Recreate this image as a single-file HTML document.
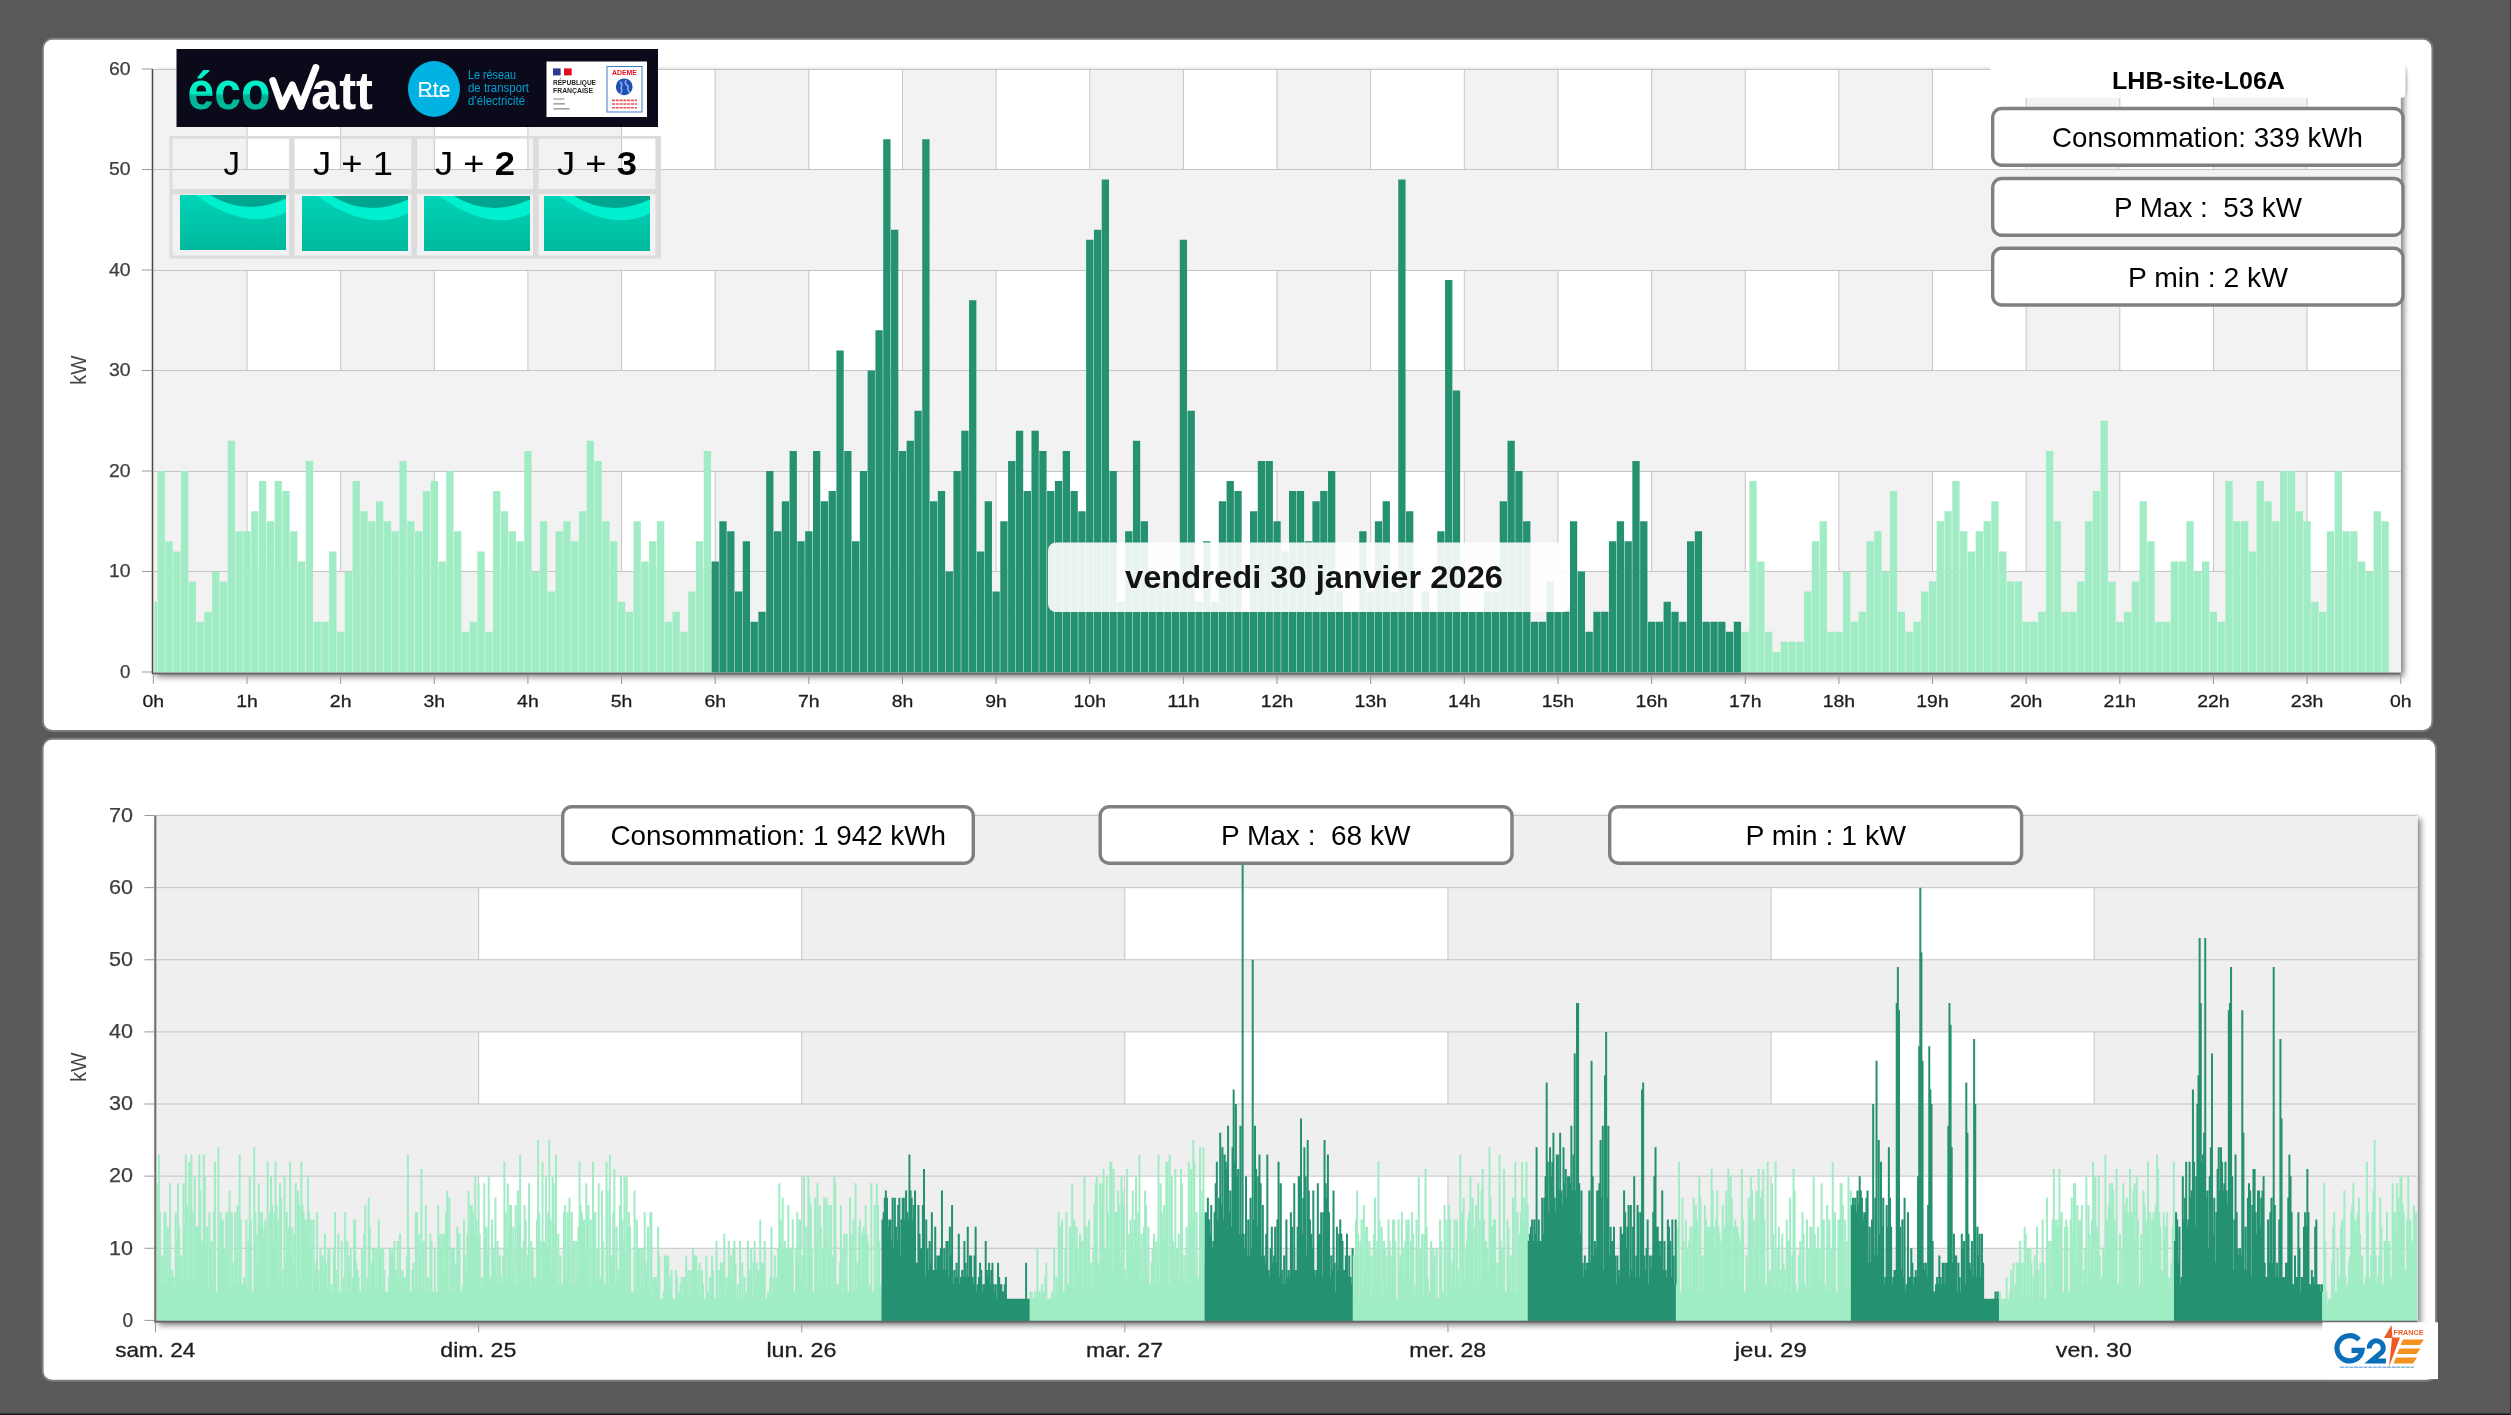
<!DOCTYPE html><html><head><meta charset="utf-8"><title>Consommation</title><style>html,body{margin:0;padding:0;background:#595959;width:2511px;height:1415px;overflow:hidden}</style></head><body><svg width="2511" height="1415" viewBox="0 0 2511 1415" style="position:absolute;left:0;top:0;display:block">
<defs>
<filter id="ps" x="-2%" y="-2%" width="104%" height="106%"><feDropShadow dx="3" dy="3" stdDeviation="3" flood-color="#000" flood-opacity="0.55"/></filter>
<filter id="panel" x="-1%" y="-2%" width="102%" height="104%"><feDropShadow dx="0" dy="0" stdDeviation="1.2" flood-color="#000" flood-opacity="0.5"/></filter>
<filter id="tsh" x="-5%" y="-20%" width="110%" height="150%"><feDropShadow dx="2" dy="2" stdDeviation="2" flood-color="#000" flood-opacity="0.25"/></filter>
<linearGradient id="eco" x1="0" y1="0" x2="0" y2="1"><stop offset="0" stop-color="#00f5d0"/><stop offset="0.55" stop-color="#00f0c8"/><stop offset="0.6" stop-color="#00b496"/><stop offset="1" stop-color="#00c8a4"/></linearGradient>
<linearGradient id="sig" x1="0" y1="0" x2="0" y2="1"><stop offset="0" stop-color="#00d4b6"/><stop offset="1" stop-color="#00b89e"/></linearGradient>
<clipPath id="sigclip"><rect x="0" y="0" width="106" height="55"/></clipPath>
</defs>
<rect width="2511" height="1415" fill="#595959"/>
<rect x="0" y="1413.5" width="2511" height="2" fill="#1a1a1a"/>
<rect x="2510" y="0" width="1" height="1415" fill="#3a3a3a"/>
<rect x="42.85" y="38.85" width="2389.55" height="692.15" rx="9.5" fill="#fff" stroke="#7c7c7c" stroke-width="2"/>
<rect x="42.6" y="738.8" width="2393.5" height="642" rx="9.5" fill="#fff" stroke="#7c7c7c" stroke-width="2"/>
<rect x="153.36" y="69" width="2247.36" height="604.5" fill="#fff" filter="url(#ps)"/>
<rect x="153.36" y="69" width="93.64" height="603" fill="#f2f2f2"/>
<rect x="340.64" y="69" width="93.64" height="603" fill="#f2f2f2"/>
<rect x="527.92" y="69" width="93.64" height="603" fill="#f2f2f2"/>
<rect x="715.2" y="69" width="93.64" height="603" fill="#f2f2f2"/>
<rect x="902.48" y="69" width="93.64" height="603" fill="#f2f2f2"/>
<rect x="1089.76" y="69" width="93.64" height="603" fill="#f2f2f2"/>
<rect x="1277.04" y="69" width="93.64" height="603" fill="#f2f2f2"/>
<rect x="1464.32" y="69" width="93.64" height="603" fill="#f2f2f2"/>
<rect x="1651.6" y="69" width="93.64" height="603" fill="#f2f2f2"/>
<rect x="1838.88" y="69" width="93.64" height="603" fill="#f2f2f2"/>
<rect x="2026.16" y="69" width="93.64" height="603" fill="#f2f2f2"/>
<rect x="2213.44" y="69" width="93.64" height="603" fill="#f2f2f2"/>
<path d="M247 69V672M340.64 69V672M434.28 69V672M527.92 69V672M621.56 69V672M715.2 69V672M808.84 69V672M902.48 69V672M996.12 69V672M1089.76 69V672M1183.4 69V672M1277.04 69V672M1370.68 69V672M1464.32 69V672M1557.96 69V672M1651.6 69V672M1745.24 69V672M1838.88 69V672M1932.52 69V672M2026.16 69V672M2119.8 69V672M2213.44 69V672M2307.08 69V672" stroke="#c4c4c4" stroke-width="1" fill="none"/>
<rect x="153.36" y="571.5" width="2247.36" height="100.5" fill="#f2f2f2"/>
<rect x="153.36" y="370.5" width="2247.36" height="100.5" fill="#f2f2f2"/>
<rect x="153.36" y="169.5" width="2247.36" height="100.5" fill="#f2f2f2"/>
<path d="M153.36 571.5H2400.72M153.36 471.5H2400.72M153.36 370.5H2400.72M153.36 270.5H2400.72M153.36 169.5H2400.72M153.36 69.5H2400.72" stroke="#c4c4c4" stroke-width="1" fill="none"/>
<path d="M154.36 672.5V601.65h2.65V672.5zM157.51 672.5V471h7.3V672.5zM165.32 672.5V541.35h7.3V672.5zM173.12 672.5V551.4h7.3V672.5zM180.92 672.5V471h7.3V672.5zM188.73 672.5V581.55h7.3V672.5zM196.53 672.5V621.75h7.3V672.5zM204.33 672.5V611.7h7.3V672.5zM212.14 672.5V571.5h7.3V672.5zM219.94 672.5V581.55h7.3V672.5zM227.74 672.5V440.85h7.3V672.5zM235.55 672.5V531.3h7.3V672.5zM243.35 672.5V531.3h7.3V672.5zM251.15 672.5V511.2h7.3V672.5zM258.96 672.5V481.05h7.3V672.5zM266.76 672.5V521.25h7.3V672.5zM274.56 672.5V481.05h7.3V672.5zM282.37 672.5V491.1h7.3V672.5zM290.17 672.5V531.3h7.3V672.5zM297.97 672.5V561.45h7.3V672.5zM305.78 672.5V460.95h7.3V672.5zM313.58 672.5V621.75h7.3V672.5zM321.38 672.5V621.75h7.3V672.5zM329.19 672.5V551.4h7.3V672.5zM336.99 672.5V631.8h7.3V672.5zM344.79 672.5V571.5h7.3V672.5zM352.6 672.5V481.05h7.3V672.5zM360.4 672.5V511.2h7.3V672.5zM368.2 672.5V521.25h7.3V672.5zM376.01 672.5V501.15h7.3V672.5zM383.81 672.5V521.25h7.3V672.5zM391.61 672.5V531.3h7.3V672.5zM399.42 672.5V460.95h7.3V672.5zM407.22 672.5V521.25h7.3V672.5zM415.02 672.5V531.3h7.3V672.5zM422.83 672.5V491.1h7.3V672.5zM430.63 672.5V481.05h7.3V672.5zM438.43 672.5V561.45h7.3V672.5zM446.24 672.5V471h7.3V672.5zM454.04 672.5V531.3h7.3V672.5zM461.84 672.5V631.8h7.3V672.5zM469.65 672.5V621.75h7.3V672.5zM477.45 672.5V551.4h7.3V672.5zM485.25 672.5V631.8h7.3V672.5zM493.06 672.5V491.1h7.3V672.5zM500.86 672.5V511.2h7.3V672.5zM508.66 672.5V531.3h7.3V672.5zM516.47 672.5V541.35h7.3V672.5zM524.27 672.5V450.9h7.3V672.5zM532.07 672.5V571.5h7.3V672.5zM539.88 672.5V521.25h7.3V672.5zM547.68 672.5V591.6h7.3V672.5zM555.48 672.5V531.3h7.3V672.5zM563.29 672.5V521.25h7.3V672.5zM571.09 672.5V541.35h7.3V672.5zM578.89 672.5V511.2h7.3V672.5zM586.7 672.5V440.85h7.3V672.5zM594.5 672.5V460.95h7.3V672.5zM602.3 672.5V521.25h7.3V672.5zM610.11 672.5V541.35h7.3V672.5zM617.91 672.5V601.65h7.3V672.5zM625.71 672.5V611.7h7.3V672.5zM633.52 672.5V521.25h7.3V672.5zM641.32 672.5V561.45h7.3V672.5zM649.12 672.5V541.35h7.3V672.5zM656.93 672.5V521.25h7.3V672.5zM664.73 672.5V621.75h7.3V672.5zM672.53 672.5V611.7h7.3V672.5zM680.34 672.5V631.8h7.3V672.5zM688.14 672.5V591.6h7.3V672.5zM695.94 672.5V541.35h7.3V672.5zM703.75 672.5V450.9h7.3V672.5zM1741.59 672.5V631.8h7.3V672.5zM1749.39 672.5V481.05h7.3V672.5zM1757.2 672.5V561.45h7.3V672.5zM1765 672.5V631.8h7.3V672.5zM1772.8 672.5V651.9h7.3V672.5zM1780.61 672.5V641.85h7.3V672.5zM1788.41 672.5V641.85h7.3V672.5zM1796.21 672.5V641.85h7.3V672.5zM1804.02 672.5V591.6h7.3V672.5zM1811.82 672.5V541.35h7.3V672.5zM1819.62 672.5V521.25h7.3V672.5zM1827.43 672.5V631.8h7.3V672.5zM1835.23 672.5V631.8h7.3V672.5zM1843.03 672.5V571.5h7.3V672.5zM1850.84 672.5V621.75h7.3V672.5zM1858.64 672.5V611.7h7.3V672.5zM1866.44 672.5V541.35h7.3V672.5zM1874.25 672.5V531.3h7.3V672.5zM1882.05 672.5V571.5h7.3V672.5zM1889.85 672.5V491.1h7.3V672.5zM1897.66 672.5V611.7h7.3V672.5zM1905.46 672.5V631.8h7.3V672.5zM1913.26 672.5V621.75h7.3V672.5zM1921.07 672.5V591.6h7.3V672.5zM1928.87 672.5V581.55h7.3V672.5zM1936.67 672.5V521.25h7.3V672.5zM1944.48 672.5V511.2h7.3V672.5zM1952.28 672.5V481.05h7.3V672.5zM1960.08 672.5V531.3h7.3V672.5zM1967.89 672.5V551.4h7.3V672.5zM1975.69 672.5V531.3h7.3V672.5zM1983.49 672.5V521.25h7.3V672.5zM1991.3 672.5V501.15h7.3V672.5zM1999.1 672.5V551.4h7.3V672.5zM2006.9 672.5V581.55h7.3V672.5zM2014.71 672.5V581.55h7.3V672.5zM2022.51 672.5V621.75h7.3V672.5zM2030.31 672.5V621.75h7.3V672.5zM2038.12 672.5V611.7h7.3V672.5zM2045.92 672.5V450.9h7.3V672.5zM2053.72 672.5V521.25h7.3V672.5zM2061.53 672.5V611.7h7.3V672.5zM2069.33 672.5V611.7h7.3V672.5zM2077.13 672.5V581.55h7.3V672.5zM2084.94 672.5V521.25h7.3V672.5zM2092.74 672.5V491.1h7.3V672.5zM2100.54 672.5V420.75h7.3V672.5zM2108.35 672.5V581.55h7.3V672.5zM2116.15 672.5V621.75h7.3V672.5zM2123.95 672.5V611.7h7.3V672.5zM2131.76 672.5V581.55h7.3V672.5zM2139.56 672.5V501.15h7.3V672.5zM2147.36 672.5V541.35h7.3V672.5zM2155.17 672.5V621.75h7.3V672.5zM2162.97 672.5V621.75h7.3V672.5zM2170.77 672.5V561.45h7.3V672.5zM2178.58 672.5V561.45h7.3V672.5zM2186.38 672.5V521.25h7.3V672.5zM2194.18 672.5V571.5h7.3V672.5zM2201.99 672.5V561.45h7.3V672.5zM2209.79 672.5V611.7h7.3V672.5zM2217.59 672.5V621.75h7.3V672.5zM2225.4 672.5V481.05h7.3V672.5zM2233.2 672.5V521.25h7.3V672.5zM2241 672.5V521.25h7.3V672.5zM2248.81 672.5V551.4h7.3V672.5zM2256.61 672.5V481.05h7.3V672.5zM2264.41 672.5V501.15h7.3V672.5zM2272.22 672.5V521.25h7.3V672.5zM2280.02 672.5V471h7.3V672.5zM2287.82 672.5V471h7.3V672.5zM2295.63 672.5V511.2h7.3V672.5zM2303.43 672.5V521.25h7.3V672.5zM2311.23 672.5V601.65h7.3V672.5zM2319.04 672.5V611.7h7.3V672.5zM2326.84 672.5V531.3h7.3V672.5zM2334.64 672.5V471h7.3V672.5zM2342.45 672.5V531.3h7.3V672.5zM2350.25 672.5V531.3h7.3V672.5zM2358.05 672.5V561.45h7.3V672.5zM2365.86 672.5V571.5h7.3V672.5zM2373.66 672.5V511.2h7.3V672.5zM2381.46 672.5V521.25h7.3V672.5z" fill="#a0ecc4"/>
<path d="M711.55 672.5V561.45h7.3V672.5zM719.35 672.5V521.25h7.3V672.5zM727.16 672.5V531.3h7.3V672.5zM734.96 672.5V591.6h7.3V672.5zM742.76 672.5V541.35h7.3V672.5zM750.57 672.5V621.75h7.3V672.5zM758.37 672.5V611.7h7.3V672.5zM766.17 672.5V471h7.3V672.5zM773.98 672.5V531.3h7.3V672.5zM781.78 672.5V501.15h7.3V672.5zM789.58 672.5V450.9h7.3V672.5zM797.39 672.5V541.35h7.3V672.5zM805.19 672.5V531.3h7.3V672.5zM812.99 672.5V450.9h7.3V672.5zM820.8 672.5V501.15h7.3V672.5zM828.6 672.5V491.1h7.3V672.5zM836.4 672.5V350.4h7.3V672.5zM844.21 672.5V450.9h7.3V672.5zM852.01 672.5V541.35h7.3V672.5zM859.81 672.5V471h7.3V672.5zM867.62 672.5V370.5h7.3V672.5zM875.42 672.5V330.3h7.3V672.5zM883.22 672.5V139.35h7.3V672.5zM891.03 672.5V229.8h7.3V672.5zM898.83 672.5V450.9h7.3V672.5zM906.63 672.5V440.85h7.3V672.5zM914.44 672.5V410.7h7.3V672.5zM922.24 672.5V139.35h7.3V672.5zM930.04 672.5V501.15h7.3V672.5zM937.85 672.5V491.1h7.3V672.5zM945.65 672.5V571.5h7.3V672.5zM953.45 672.5V471h7.3V672.5zM961.26 672.5V430.8h7.3V672.5zM969.06 672.5V300.15h7.3V672.5zM976.86 672.5V551.4h7.3V672.5zM984.67 672.5V501.15h7.3V672.5zM992.47 672.5V591.6h7.3V672.5zM1000.27 672.5V521.25h7.3V672.5zM1008.08 672.5V460.95h7.3V672.5zM1015.88 672.5V430.8h7.3V672.5zM1023.68 672.5V491.1h7.3V672.5zM1031.49 672.5V430.8h7.3V672.5zM1039.29 672.5V450.9h7.3V672.5zM1047.09 672.5V491.1h7.3V672.5zM1054.9 672.5V481.05h7.3V672.5zM1062.7 672.5V450.9h7.3V672.5zM1070.5 672.5V491.1h7.3V672.5zM1078.31 672.5V511.2h7.3V672.5zM1086.11 672.5V239.85h7.3V672.5zM1093.91 672.5V229.8h7.3V672.5zM1101.72 672.5V179.55h7.3V672.5zM1109.52 672.5V471h7.3V672.5zM1117.32 672.5V601.65h7.3V672.5zM1125.13 672.5V531.3h7.3V672.5zM1132.93 672.5V440.85h7.3V672.5zM1140.73 672.5V521.25h7.3V672.5zM1148.54 672.5V571.5h7.3V672.5zM1156.34 672.5V581.55h7.3V672.5zM1164.14 672.5V571.5h7.3V672.5zM1171.95 672.5V581.55h7.3V672.5zM1179.75 672.5V239.85h7.3V672.5zM1187.55 672.5V410.7h7.3V672.5zM1195.36 672.5V601.65h7.3V672.5zM1203.16 672.5V541.35h7.3V672.5zM1210.96 672.5V601.65h7.3V672.5zM1218.77 672.5V501.15h7.3V672.5zM1226.57 672.5V481.05h7.3V672.5zM1234.37 672.5V491.1h7.3V672.5zM1242.18 672.5V611.7h7.3V672.5zM1249.98 672.5V511.2h7.3V672.5zM1257.78 672.5V460.95h7.3V672.5zM1265.59 672.5V460.95h7.3V672.5zM1273.39 672.5V521.25h7.3V672.5zM1281.19 672.5V551.4h7.3V672.5zM1289 672.5V491.1h7.3V672.5zM1296.8 672.5V491.1h7.3V672.5zM1304.6 672.5V541.35h7.3V672.5zM1312.41 672.5V501.15h7.3V672.5zM1320.21 672.5V491.1h7.3V672.5zM1328.01 672.5V471h7.3V672.5zM1335.82 672.5V591.6h7.3V672.5zM1343.62 672.5V611.7h7.3V672.5zM1351.42 672.5V611.7h7.3V672.5zM1359.23 672.5V531.3h7.3V672.5zM1367.03 672.5V591.6h7.3V672.5zM1374.83 672.5V521.25h7.3V672.5zM1382.64 672.5V501.15h7.3V672.5zM1390.44 672.5V591.6h7.3V672.5zM1398.24 672.5V179.55h7.3V672.5zM1406.05 672.5V511.2h7.3V672.5zM1413.85 672.5V611.7h7.3V672.5zM1421.65 672.5V591.6h7.3V672.5zM1429.46 672.5V611.7h7.3V672.5zM1437.26 672.5V531.3h7.3V672.5zM1445.06 672.5V280.05h7.3V672.5zM1452.87 672.5V390.6h7.3V672.5zM1460.67 672.5V611.7h7.3V672.5zM1468.47 672.5V611.7h7.3V672.5zM1476.28 672.5V611.7h7.3V672.5zM1484.08 672.5V591.6h7.3V672.5zM1491.88 672.5V591.6h7.3V672.5zM1499.69 672.5V501.15h7.3V672.5zM1507.49 672.5V440.85h7.3V672.5zM1515.29 672.5V471h7.3V672.5zM1523.1 672.5V521.25h7.3V672.5zM1530.9 672.5V621.75h7.3V672.5zM1538.7 672.5V621.75h7.3V672.5zM1546.51 672.5V581.55h7.3V672.5zM1554.31 672.5V611.7h7.3V672.5zM1562.11 672.5V611.7h7.3V672.5zM1569.92 672.5V521.25h7.3V672.5zM1577.72 672.5V571.5h7.3V672.5zM1585.52 672.5V631.8h7.3V672.5zM1593.33 672.5V611.7h7.3V672.5zM1601.13 672.5V611.7h7.3V672.5zM1608.93 672.5V541.35h7.3V672.5zM1616.74 672.5V521.25h7.3V672.5zM1624.54 672.5V541.35h7.3V672.5zM1632.34 672.5V460.95h7.3V672.5zM1640.15 672.5V521.25h7.3V672.5zM1647.95 672.5V621.75h7.3V672.5zM1655.75 672.5V621.75h7.3V672.5zM1663.56 672.5V601.65h7.3V672.5zM1671.36 672.5V611.7h7.3V672.5zM1679.16 672.5V621.75h7.3V672.5zM1686.97 672.5V541.35h7.3V672.5zM1694.77 672.5V531.3h7.3V672.5zM1702.57 672.5V621.75h7.3V672.5zM1710.38 672.5V621.75h7.3V672.5zM1718.18 672.5V621.75h7.3V672.5zM1725.98 672.5V631.8h7.3V672.5zM1733.79 672.5V621.75h7.3V672.5z" fill="#249170"/>
<rect x="152.36" y="672.5" width="2248.36" height="2" fill="#6a6a6a"/>
<rect x="151.76" y="69" width="1.5" height="605" fill="#484848"/>
<path d="M153.36 674.5V684M247 674.5V684M340.64 674.5V684M434.28 674.5V684M527.92 674.5V684M621.56 674.5V684M715.2 674.5V684M808.84 674.5V684M902.48 674.5V684M996.12 674.5V684M1089.76 674.5V684M1183.4 674.5V684M1277.04 674.5V684M1370.68 674.5V684M1464.32 674.5V684M1557.96 674.5V684M1651.6 674.5V684M1745.24 674.5V684M1838.88 674.5V684M1932.52 674.5V684M2026.16 674.5V684M2119.8 674.5V684M2213.44 674.5V684M2307.08 674.5V684M2400.72 674.5V684M141.86 672H152.36M141.86 571.5H152.36M141.86 471H152.36M141.86 370.5H152.36M141.86 270H152.36M141.86 169.5H152.36M141.86 69H152.36" stroke="#999" stroke-width="1" fill="none"/>
<text opacity="0.99" x="130.5" y="677.8" text-anchor="end" font-family="Liberation Sans, sans-serif" font-size="17.8" fill="#3c3c3c" stroke="#3c3c3c" stroke-width="0.25" textLength="10.4" lengthAdjust="spacingAndGlyphs">0</text>
<text opacity="0.99" x="130.5" y="577.3" text-anchor="end" font-family="Liberation Sans, sans-serif" font-size="17.8" fill="#3c3c3c" stroke="#3c3c3c" stroke-width="0.25" textLength="21.6" lengthAdjust="spacingAndGlyphs">10</text>
<text opacity="0.99" x="130.5" y="476.8" text-anchor="end" font-family="Liberation Sans, sans-serif" font-size="17.8" fill="#3c3c3c" stroke="#3c3c3c" stroke-width="0.25" textLength="21.6" lengthAdjust="spacingAndGlyphs">20</text>
<text opacity="0.99" x="130.5" y="376.3" text-anchor="end" font-family="Liberation Sans, sans-serif" font-size="17.8" fill="#3c3c3c" stroke="#3c3c3c" stroke-width="0.25" textLength="21.6" lengthAdjust="spacingAndGlyphs">30</text>
<text opacity="0.99" x="130.5" y="275.8" text-anchor="end" font-family="Liberation Sans, sans-serif" font-size="17.8" fill="#3c3c3c" stroke="#3c3c3c" stroke-width="0.25" textLength="21.6" lengthAdjust="spacingAndGlyphs">40</text>
<text opacity="0.99" x="130.5" y="175.3" text-anchor="end" font-family="Liberation Sans, sans-serif" font-size="17.8" fill="#3c3c3c" stroke="#3c3c3c" stroke-width="0.25" textLength="21.6" lengthAdjust="spacingAndGlyphs">50</text>
<text opacity="0.99" x="130.5" y="74.8" text-anchor="end" font-family="Liberation Sans, sans-serif" font-size="17.8" fill="#3c3c3c" stroke="#3c3c3c" stroke-width="0.25" textLength="21.6" lengthAdjust="spacingAndGlyphs">60</text>
<text opacity="0.99" x="153.36" y="707" text-anchor="middle" font-family="Liberation Sans, sans-serif" font-size="17.4" fill="#1c1c1c" stroke="#1c1c1c" stroke-width="0.3" textLength="21.6" lengthAdjust="spacingAndGlyphs">0h</text>
<text opacity="0.99" x="247" y="707" text-anchor="middle" font-family="Liberation Sans, sans-serif" font-size="17.4" fill="#1c1c1c" stroke="#1c1c1c" stroke-width="0.3" textLength="21.6" lengthAdjust="spacingAndGlyphs">1h</text>
<text opacity="0.99" x="340.64" y="707" text-anchor="middle" font-family="Liberation Sans, sans-serif" font-size="17.4" fill="#1c1c1c" stroke="#1c1c1c" stroke-width="0.3" textLength="21.6" lengthAdjust="spacingAndGlyphs">2h</text>
<text opacity="0.99" x="434.28" y="707" text-anchor="middle" font-family="Liberation Sans, sans-serif" font-size="17.4" fill="#1c1c1c" stroke="#1c1c1c" stroke-width="0.3" textLength="21.6" lengthAdjust="spacingAndGlyphs">3h</text>
<text opacity="0.99" x="527.92" y="707" text-anchor="middle" font-family="Liberation Sans, sans-serif" font-size="17.4" fill="#1c1c1c" stroke="#1c1c1c" stroke-width="0.3" textLength="21.6" lengthAdjust="spacingAndGlyphs">4h</text>
<text opacity="0.99" x="621.56" y="707" text-anchor="middle" font-family="Liberation Sans, sans-serif" font-size="17.4" fill="#1c1c1c" stroke="#1c1c1c" stroke-width="0.3" textLength="21.6" lengthAdjust="spacingAndGlyphs">5h</text>
<text opacity="0.99" x="715.2" y="707" text-anchor="middle" font-family="Liberation Sans, sans-serif" font-size="17.4" fill="#1c1c1c" stroke="#1c1c1c" stroke-width="0.3" textLength="21.6" lengthAdjust="spacingAndGlyphs">6h</text>
<text opacity="0.99" x="808.84" y="707" text-anchor="middle" font-family="Liberation Sans, sans-serif" font-size="17.4" fill="#1c1c1c" stroke="#1c1c1c" stroke-width="0.3" textLength="21.6" lengthAdjust="spacingAndGlyphs">7h</text>
<text opacity="0.99" x="902.48" y="707" text-anchor="middle" font-family="Liberation Sans, sans-serif" font-size="17.4" fill="#1c1c1c" stroke="#1c1c1c" stroke-width="0.3" textLength="21.6" lengthAdjust="spacingAndGlyphs">8h</text>
<text opacity="0.99" x="996.12" y="707" text-anchor="middle" font-family="Liberation Sans, sans-serif" font-size="17.4" fill="#1c1c1c" stroke="#1c1c1c" stroke-width="0.3" textLength="21.6" lengthAdjust="spacingAndGlyphs">9h</text>
<text opacity="0.99" x="1089.76" y="707" text-anchor="middle" font-family="Liberation Sans, sans-serif" font-size="17.4" fill="#1c1c1c" stroke="#1c1c1c" stroke-width="0.3" textLength="32.4" lengthAdjust="spacingAndGlyphs">10h</text>
<text opacity="0.99" x="1183.4" y="707" text-anchor="middle" font-family="Liberation Sans, sans-serif" font-size="17.4" fill="#1c1c1c" stroke="#1c1c1c" stroke-width="0.3" textLength="32.4" lengthAdjust="spacingAndGlyphs">11h</text>
<text opacity="0.99" x="1277.04" y="707" text-anchor="middle" font-family="Liberation Sans, sans-serif" font-size="17.4" fill="#1c1c1c" stroke="#1c1c1c" stroke-width="0.3" textLength="32.4" lengthAdjust="spacingAndGlyphs">12h</text>
<text opacity="0.99" x="1370.68" y="707" text-anchor="middle" font-family="Liberation Sans, sans-serif" font-size="17.4" fill="#1c1c1c" stroke="#1c1c1c" stroke-width="0.3" textLength="32.4" lengthAdjust="spacingAndGlyphs">13h</text>
<text opacity="0.99" x="1464.32" y="707" text-anchor="middle" font-family="Liberation Sans, sans-serif" font-size="17.4" fill="#1c1c1c" stroke="#1c1c1c" stroke-width="0.3" textLength="32.4" lengthAdjust="spacingAndGlyphs">14h</text>
<text opacity="0.99" x="1557.96" y="707" text-anchor="middle" font-family="Liberation Sans, sans-serif" font-size="17.4" fill="#1c1c1c" stroke="#1c1c1c" stroke-width="0.3" textLength="32.4" lengthAdjust="spacingAndGlyphs">15h</text>
<text opacity="0.99" x="1651.6" y="707" text-anchor="middle" font-family="Liberation Sans, sans-serif" font-size="17.4" fill="#1c1c1c" stroke="#1c1c1c" stroke-width="0.3" textLength="32.4" lengthAdjust="spacingAndGlyphs">16h</text>
<text opacity="0.99" x="1745.24" y="707" text-anchor="middle" font-family="Liberation Sans, sans-serif" font-size="17.4" fill="#1c1c1c" stroke="#1c1c1c" stroke-width="0.3" textLength="32.4" lengthAdjust="spacingAndGlyphs">17h</text>
<text opacity="0.99" x="1838.88" y="707" text-anchor="middle" font-family="Liberation Sans, sans-serif" font-size="17.4" fill="#1c1c1c" stroke="#1c1c1c" stroke-width="0.3" textLength="32.4" lengthAdjust="spacingAndGlyphs">18h</text>
<text opacity="0.99" x="1932.52" y="707" text-anchor="middle" font-family="Liberation Sans, sans-serif" font-size="17.4" fill="#1c1c1c" stroke="#1c1c1c" stroke-width="0.3" textLength="32.4" lengthAdjust="spacingAndGlyphs">19h</text>
<text opacity="0.99" x="2026.16" y="707" text-anchor="middle" font-family="Liberation Sans, sans-serif" font-size="17.4" fill="#1c1c1c" stroke="#1c1c1c" stroke-width="0.3" textLength="32.4" lengthAdjust="spacingAndGlyphs">20h</text>
<text opacity="0.99" x="2119.8" y="707" text-anchor="middle" font-family="Liberation Sans, sans-serif" font-size="17.4" fill="#1c1c1c" stroke="#1c1c1c" stroke-width="0.3" textLength="32.4" lengthAdjust="spacingAndGlyphs">21h</text>
<text opacity="0.99" x="2213.44" y="707" text-anchor="middle" font-family="Liberation Sans, sans-serif" font-size="17.4" fill="#1c1c1c" stroke="#1c1c1c" stroke-width="0.3" textLength="32.4" lengthAdjust="spacingAndGlyphs">22h</text>
<text opacity="0.99" x="2307.08" y="707" text-anchor="middle" font-family="Liberation Sans, sans-serif" font-size="17.4" fill="#1c1c1c" stroke="#1c1c1c" stroke-width="0.3" textLength="32.4" lengthAdjust="spacingAndGlyphs">23h</text>
<text opacity="0.99" x="2400.72" y="707" text-anchor="middle" font-family="Liberation Sans, sans-serif" font-size="17.4" fill="#1c1c1c" stroke="#1c1c1c" stroke-width="0.3" textLength="21.6" lengthAdjust="spacingAndGlyphs">0h</text>
<text opacity="0.99" transform="translate(85.8,370.3) rotate(-90)" text-anchor="middle" font-family="Liberation Sans, sans-serif" font-size="21.5" fill="#444" textLength="29.6" lengthAdjust="spacingAndGlyphs">kW</text>
<rect x="1048" y="542.5" width="522" height="69.5" rx="8" fill="#fff" fill-opacity="0.9"/>
<text opacity="0.99" x="1314" y="588.3" text-anchor="middle" font-family="Liberation Sans, sans-serif" font-size="30.5" font-weight="bold" fill="#111" textLength="378" lengthAdjust="spacingAndGlyphs">vendredi 30 janvier 2026</text>
<rect x="176.5" y="49" width="481.5" height="78" fill="#0a0a1a"/>
<text opacity="0.99" x="187.5" y="109" font-family="Liberation Sans, sans-serif" font-size="54" font-weight="bold" fill="url(#eco)" textLength="83" lengthAdjust="spacingAndGlyphs">éco</text>
<path d="M272.8 80.5L282 106.5L292.3 85L300.8 106.5L315.8 67.5" stroke="#fff" stroke-width="7" stroke-linecap="round" stroke-linejoin="round" fill="none"/>
<text opacity="0.99" x="311" y="109" font-family="Liberation Sans, sans-serif" font-size="54" font-weight="bold" fill="#fff" textLength="62" lengthAdjust="spacingAndGlyphs">att</text>
<ellipse cx="434" cy="89" rx="26" ry="28" fill="#00b2e2"/>
<text opacity="0.99" x="434" y="97" text-anchor="middle" font-family="Liberation Sans, sans-serif" font-size="22" fill="#fff" textLength="33" lengthAdjust="spacingAndGlyphs">Rte</text>
<path d="M419 96H449" stroke="#fff" stroke-width="1.3"/>
<text opacity="0.99" x="468" y="78.6" font-family="Liberation Sans, sans-serif" font-size="12.5" fill="#00a4d4" textLength="48" lengthAdjust="spacingAndGlyphs">Le réseau</text>
<text opacity="0.99" x="468" y="92" font-family="Liberation Sans, sans-serif" font-size="12.5" fill="#00a4d4" textLength="61" lengthAdjust="spacingAndGlyphs">de transport</text>
<text opacity="0.99" x="468" y="105.4" font-family="Liberation Sans, sans-serif" font-size="12.5" fill="#00a4d4" textLength="57" lengthAdjust="spacingAndGlyphs">d’électricité</text>
<rect x="546.5" y="61.5" width="100.5" height="55.5" fill="#fff"/>
<rect x="553" y="68.4" width="7.6" height="7" fill="#2b3b8f"/><rect x="564" y="68.4" width="7.7" height="7" fill="#e1101f"/>
<text opacity="0.99" x="553" y="84.8" font-family="Liberation Sans, sans-serif" font-size="7.2" font-weight="bold" fill="#222" textLength="43" lengthAdjust="spacingAndGlyphs">RÉPUBLIQUE</text>
<text opacity="0.99" x="553" y="93.2" font-family="Liberation Sans, sans-serif" font-size="7.2" font-weight="bold" fill="#222" textLength="40" lengthAdjust="spacingAndGlyphs">FRANÇAISE</text>
<path d="M553.5 99h11M553.5 103.8h11.5M553.5 108.8h16" stroke="#888" stroke-width="1.2"/>
<rect x="607" y="66.5" width="35" height="45.5" fill="#fff" stroke="#3d7cc9" stroke-width="1"/>
<text opacity="0.99" x="624.5" y="74.6" text-anchor="middle" font-family="Liberation Sans, sans-serif" font-size="6.4" font-weight="bold" fill="#e1101f" textLength="25" lengthAdjust="spacingAndGlyphs">ADEME</text>
<circle cx="624.2" cy="86.8" r="8.4" fill="#1d50b4"/><path d="M620 82q3 2 1 6q2 3 -1 6M626 80q-2 4 2 6q-1 4 2 7" stroke="#8fa8e6" stroke-width="1.6" fill="none"/>
<path d="M612 100.4h25M612 104h25M612 107.7h25" stroke="#e8505a" stroke-width="1.6" stroke-dasharray="3 0.8"/>
<rect x="169.5" y="136" width="491.5" height="122.5" fill="#dcdcdc" fill-opacity="0.0"/>
<path d="M169.5 136H661V258.5H169.5zM172.5 138.7V188.9H289V138.7zM172.5 194.2V255.6H289V194.2zM294.6 138.7V188.9H411.4V138.7zM294.6 194.2V255.6H411.4V194.2zM417 138.7V188.9H533V138.7zM417 194.2V255.6H533V194.2zM538.6 138.7V188.9H655.4V138.7zM538.6 194.2V255.6H655.4V194.2z" fill="#dcdcdc" fill-rule="evenodd"/>
<text opacity="0.99" x="231.75" y="175" text-anchor="middle" font-family="Liberation Sans, sans-serif" font-size="33" fill="#000">J</text>
<text opacity="0.99" x="353" y="175" text-anchor="middle" font-family="Liberation Sans, sans-serif" font-size="33" fill="#000" textLength="80" lengthAdjust="spacingAndGlyphs">J + <tspan font-weight="normal">1</tspan></text>
<text opacity="0.99" x="475" y="175" text-anchor="middle" font-family="Liberation Sans, sans-serif" font-size="33" fill="#000" textLength="80" lengthAdjust="spacingAndGlyphs">J + <tspan font-weight="bold">2</tspan></text>
<text opacity="0.99" x="597" y="175" text-anchor="middle" font-family="Liberation Sans, sans-serif" font-size="33" fill="#000" textLength="80" lengthAdjust="spacingAndGlyphs">J + <tspan font-weight="bold">3</tspan></text>
<g transform="translate(180,195)" clip-path="url(#sigclip)"><rect width="106" height="55" fill="url(#sig)"/><path d="M15.5 0 C40 18 75 34 106 17 V0z" fill="#00efcf"/><path d="M30 0 Q66 22 106 3.5 V0z" fill="#00a58f"/></g>
<g transform="translate(302,196)" clip-path="url(#sigclip)"><rect width="106" height="55" fill="url(#sig)"/><path d="M15.5 0 C40 18 75 34 106 17 V0z" fill="#00efcf"/><path d="M30 0 Q66 22 106 3.5 V0z" fill="#00a58f"/></g>
<g transform="translate(424,196)" clip-path="url(#sigclip)"><rect width="106" height="55" fill="url(#sig)"/><path d="M15.5 0 C40 18 75 34 106 17 V0z" fill="#00efcf"/><path d="M30 0 Q66 22 106 3.5 V0z" fill="#00a58f"/></g>
<g transform="translate(544,196)" clip-path="url(#sigclip)"><rect width="106" height="55" fill="url(#sig)"/><path d="M15.5 0 C40 18 75 34 106 17 V0z" fill="#00efcf"/><path d="M30 0 Q66 22 106 3.5 V0z" fill="#00a58f"/></g>
<rect x="2398" y="66" width="9.5" height="30" rx="4" fill="#000" fill-opacity="0.10"/>
<rect x="1990" y="56" width="415.5" height="41.7" rx="4" fill="#fff"/>
<text opacity="0.99" x="2198.5" y="88.8" text-anchor="middle" font-family="Liberation Sans, sans-serif" font-size="23.5" font-weight="bold" fill="#000" textLength="173" lengthAdjust="spacingAndGlyphs">LHB-site-L06A</text>
<rect x="1992.7" y="108.5" width="410.2" height="56.8" rx="9" fill="#fff" stroke="#808080" stroke-width="3.4"/>
<text opacity="0.99" x="2052" y="147.2" font-family="Liberation Sans, sans-serif" font-size="28.3" fill="#000" textLength="311" lengthAdjust="spacingAndGlyphs" xml:space="preserve">Consommation: 339 kWh</text>
<rect x="1992.7" y="178.5" width="410.2" height="56.8" rx="9" fill="#fff" stroke="#808080" stroke-width="3.4"/>
<text opacity="0.99" x="2114" y="217.2" font-family="Liberation Sans, sans-serif" font-size="28.3" fill="#000" textLength="188" lengthAdjust="spacingAndGlyphs" xml:space="preserve">P Max :  53 kW</text>
<rect x="1992.7" y="248.3" width="410.2" height="56.7" rx="9" fill="#fff" stroke="#808080" stroke-width="3.4"/>
<text opacity="0.99" x="2128" y="286.95" font-family="Liberation Sans, sans-serif" font-size="28.3" fill="#000" textLength="160" lengthAdjust="spacingAndGlyphs" xml:space="preserve">P min : 2 kW</text>
<rect x="155.5" y="815.5" width="2261.8" height="506.4" fill="#fff" filter="url(#ps)"/>
<rect x="155.5" y="815.5" width="323.11" height="504.9" fill="#efefef"/>
<rect x="801.73" y="815.5" width="323.11" height="504.9" fill="#efefef"/>
<rect x="1447.96" y="815.5" width="323.11" height="504.9" fill="#efefef"/>
<rect x="2094.19" y="815.5" width="323.11" height="504.9" fill="#efefef"/>
<path d="M478.61 815.5V1320.4M801.73 815.5V1320.4M1124.84 815.5V1320.4M1447.96 815.5V1320.4M1771.07 815.5V1320.4M2094.19 815.5V1320.4" stroke="#c4c4c4" stroke-width="1" fill="none"/>
<rect x="155.5" y="1248.27" width="2261.8" height="72.13" fill="#efefef"/>
<rect x="155.5" y="1104.01" width="2261.8" height="72.13" fill="#efefef"/>
<rect x="155.5" y="959.76" width="2261.8" height="72.13" fill="#efefef"/>
<rect x="155.5" y="815.5" width="2261.8" height="72.13" fill="#efefef"/>
<path d="M155.5 1248.27H2417.3M155.5 1176.14H2417.3M155.5 1104.01H2417.3M155.5 1031.89H2417.3M155.5 959.76H2417.3M155.5 887.63H2417.3M155.5 815.5H2417.3" stroke="#c4c4c4" stroke-width="1" fill="none"/>
<path d="M156.5 1320.9V1269.91h1.12V1320.9zM156.74 1320.9V1183.36h2V1320.9zM157.87 1320.9V1154.5h2V1320.9zM158.99 1320.9V1212.21h2V1320.9zM160.11 1320.9V1284.34h2V1320.9zM161.23 1320.9V1255.48h2V1320.9zM162.35 1320.9V1284.34h2V1320.9zM163.48 1320.9V1212.21h2V1320.9zM164.6 1320.9V1212.21h2V1320.9zM165.72 1320.9V1291.55h2V1320.9zM166.84 1320.9V1226.63h2V1320.9zM167.96 1320.9V1277.12h2V1320.9zM169.09 1320.9V1183.36h2V1320.9zM170.21 1320.9V1277.12h2V1320.9zM171.33 1320.9V1269.91h2V1320.9zM172.45 1320.9V1277.12h2V1320.9zM173.57 1320.9V1291.55h2V1320.9zM174.69 1320.9V1212.21h2V1320.9zM175.82 1320.9V1241.06h2V1320.9zM176.94 1320.9V1183.36h2V1320.9zM178.06 1320.9V1226.63h2V1320.9zM179.18 1320.9V1277.12h2V1320.9zM180.3 1320.9V1255.48h2V1320.9zM181.43 1320.9V1284.34h2V1320.9zM182.55 1320.9V1183.36h2V1320.9zM183.67 1320.9V1226.63h2V1320.9zM184.79 1320.9V1154.5h2V1320.9zM185.91 1320.9V1204.99h2V1320.9zM187.04 1320.9V1284.34h2V1320.9zM188.16 1320.9V1161.72h2V1320.9zM189.28 1320.9V1212.21h2V1320.9zM190.4 1320.9V1154.5h2V1320.9zM191.52 1320.9V1212.21h2V1320.9zM192.65 1320.9V1284.34h2V1320.9zM193.77 1320.9V1176.14h2V1320.9zM194.89 1320.9V1226.63h2V1320.9zM196.01 1320.9V1226.63h2V1320.9zM197.13 1320.9V1226.63h2V1320.9zM198.26 1320.9V1154.5h2V1320.9zM199.38 1320.9V1190.57h2V1320.9zM200.5 1320.9V1241.06h2V1320.9zM201.62 1320.9V1255.48h2V1320.9zM202.74 1320.9V1154.5h2V1320.9zM203.86 1320.9V1176.14h2V1320.9zM204.99 1320.9V1248.27h2V1320.9zM206.11 1320.9V1226.63h2V1320.9zM207.23 1320.9V1291.55h2V1320.9zM208.35 1320.9V1212.21h2V1320.9zM209.47 1320.9V1248.27h2V1320.9zM210.6 1320.9V1241.06h2V1320.9zM211.72 1320.9V1284.34h2V1320.9zM212.84 1320.9V1212.21h2V1320.9zM213.96 1320.9V1161.72h2V1320.9zM215.08 1320.9V1291.55h2V1320.9zM216.21 1320.9V1291.55h2V1320.9zM217.33 1320.9V1147.29h2V1320.9zM218.45 1320.9V1241.06h2V1320.9zM219.57 1320.9V1212.21h2V1320.9zM220.69 1320.9V1219.42h2V1320.9zM221.82 1320.9V1219.42h2V1320.9zM222.94 1320.9V1248.27h2V1320.9zM224.06 1320.9V1255.48h2V1320.9zM225.18 1320.9V1212.21h2V1320.9zM226.3 1320.9V1212.21h2V1320.9zM227.43 1320.9V1255.48h2V1320.9zM228.55 1320.9V1190.57h2V1320.9zM229.67 1320.9V1291.55h2V1320.9zM230.79 1320.9V1212.21h2V1320.9zM231.91 1320.9V1262.7h2V1320.9zM233.03 1320.9V1284.34h2V1320.9zM234.16 1320.9V1212.21h2V1320.9zM235.28 1320.9V1248.27h2V1320.9zM236.4 1320.9V1204.99h2V1320.9zM237.52 1320.9V1284.34h2V1320.9zM238.64 1320.9V1154.5h2V1320.9zM239.77 1320.9V1219.42h2V1320.9zM240.89 1320.9V1284.34h2V1320.9zM242.01 1320.9V1284.34h2V1320.9zM243.13 1320.9V1277.12h2V1320.9zM244.25 1320.9V1284.34h2V1320.9zM245.38 1320.9V1219.42h2V1320.9zM246.5 1320.9V1291.55h2V1320.9zM247.62 1320.9V1241.06h2V1320.9zM248.74 1320.9V1176.14h2V1320.9zM249.86 1320.9V1219.42h2V1320.9zM250.99 1320.9V1291.55h2V1320.9zM252.11 1320.9V1291.55h2V1320.9zM253.23 1320.9V1147.29h2V1320.9zM254.35 1320.9V1212.21h2V1320.9zM255.47 1320.9V1233.85h2V1320.9zM256.6 1320.9V1262.7h2V1320.9zM257.72 1320.9V1183.36h2V1320.9zM258.84 1320.9V1212.21h2V1320.9zM259.96 1320.9V1226.63h2V1320.9zM261.08 1320.9V1212.21h2V1320.9zM262.2 1320.9V1241.06h2V1320.9zM263.33 1320.9V1226.63h2V1320.9zM264.45 1320.9V1219.42h2V1320.9zM265.57 1320.9V1248.27h2V1320.9zM266.69 1320.9V1161.72h2V1320.9zM267.81 1320.9V1291.55h2V1320.9zM268.94 1320.9V1212.21h2V1320.9zM270.06 1320.9V1176.14h2V1320.9zM271.18 1320.9V1204.99h2V1320.9zM272.3 1320.9V1241.06h2V1320.9zM273.42 1320.9V1212.21h2V1320.9zM274.55 1320.9V1161.72h2V1320.9zM275.67 1320.9V1204.99h2V1320.9zM276.79 1320.9V1219.42h2V1320.9zM277.91 1320.9V1284.34h2V1320.9zM279.03 1320.9V1183.36h2V1320.9zM280.16 1320.9V1197.78h2V1320.9zM281.28 1320.9V1291.55h2V1320.9zM282.4 1320.9V1269.91h2V1320.9zM283.52 1320.9V1176.14h2V1320.9zM284.64 1320.9V1262.7h2V1320.9zM285.77 1320.9V1212.21h2V1320.9zM286.89 1320.9V1233.85h2V1320.9zM288.01 1320.9V1226.63h2V1320.9zM289.13 1320.9V1161.72h2V1320.9zM290.25 1320.9V1255.48h2V1320.9zM291.37 1320.9V1226.63h2V1320.9zM292.5 1320.9V1269.91h2V1320.9zM293.62 1320.9V1233.85h2V1320.9zM294.74 1320.9V1183.36h2V1320.9zM295.86 1320.9V1291.55h2V1320.9zM296.98 1320.9V1190.57h2V1320.9zM298.11 1320.9V1204.99h2V1320.9zM299.23 1320.9V1277.12h2V1320.9zM300.35 1320.9V1161.72h2V1320.9zM301.47 1320.9V1204.99h2V1320.9zM302.59 1320.9V1212.21h2V1320.9zM303.72 1320.9V1219.42h2V1320.9zM304.84 1320.9V1219.42h2V1320.9zM305.96 1320.9V1233.85h2V1320.9zM307.08 1320.9V1176.14h2V1320.9zM308.2 1320.9V1212.21h2V1320.9zM309.33 1320.9V1248.27h2V1320.9zM310.45 1320.9V1219.42h2V1320.9zM311.57 1320.9V1291.55h2V1320.9zM312.69 1320.9V1219.42h2V1320.9zM313.81 1320.9V1277.12h2V1320.9zM314.94 1320.9V1262.7h2V1320.9zM316.06 1320.9V1212.21h2V1320.9zM317.18 1320.9V1269.91h2V1320.9zM318.3 1320.9V1291.55h2V1320.9zM319.42 1320.9V1248.27h2V1320.9zM320.54 1320.9V1255.48h2V1320.9zM321.67 1320.9V1255.48h2V1320.9zM322.79 1320.9V1269.91h2V1320.9zM323.91 1320.9V1233.85h2V1320.9zM325.03 1320.9V1262.7h2V1320.9zM326.15 1320.9V1291.55h2V1320.9zM327.28 1320.9V1248.27h2V1320.9zM328.4 1320.9V1248.27h2V1320.9zM329.52 1320.9V1291.55h2V1320.9zM330.64 1320.9V1284.34h2V1320.9zM331.76 1320.9V1291.55h2V1320.9zM332.89 1320.9V1248.27h2V1320.9zM334.01 1320.9V1212.21h2V1320.9zM335.13 1320.9V1269.91h2V1320.9zM336.25 1320.9V1291.55h2V1320.9zM337.37 1320.9V1233.85h2V1320.9zM338.5 1320.9V1291.55h2V1320.9zM339.62 1320.9V1291.55h2V1320.9zM340.74 1320.9V1241.06h2V1320.9zM341.86 1320.9V1291.55h2V1320.9zM342.98 1320.9V1277.12h2V1320.9zM344.11 1320.9V1212.21h2V1320.9zM345.23 1320.9V1291.55h2V1320.9zM346.35 1320.9V1241.06h2V1320.9zM347.47 1320.9V1255.48h2V1320.9zM348.59 1320.9V1269.91h2V1320.9zM349.71 1320.9V1248.27h2V1320.9zM350.84 1320.9V1291.55h2V1320.9zM351.96 1320.9V1277.12h2V1320.9zM353.08 1320.9V1219.42h2V1320.9zM354.2 1320.9V1219.42h2V1320.9zM355.32 1320.9V1262.7h2V1320.9zM356.45 1320.9V1269.91h2V1320.9zM357.57 1320.9V1277.12h2V1320.9zM358.69 1320.9V1291.55h2V1320.9zM359.81 1320.9V1291.55h2V1320.9zM360.93 1320.9V1248.27h2V1320.9zM362.06 1320.9V1291.55h2V1320.9zM363.18 1320.9V1233.85h2V1320.9zM364.3 1320.9V1204.99h2V1320.9zM365.42 1320.9V1291.55h2V1320.9zM366.54 1320.9V1277.12h2V1320.9zM367.67 1320.9V1197.78h2V1320.9zM368.79 1320.9V1226.63h2V1320.9zM369.91 1320.9V1291.55h2V1320.9zM371.03 1320.9V1262.7h2V1320.9zM372.15 1320.9V1248.27h2V1320.9zM373.28 1320.9V1248.27h2V1320.9zM374.4 1320.9V1291.55h2V1320.9zM375.52 1320.9V1248.27h2V1320.9zM376.64 1320.9V1291.55h2V1320.9zM377.76 1320.9V1219.42h2V1320.9zM378.88 1320.9V1255.48h2V1320.9zM380.01 1320.9V1248.27h2V1320.9zM381.13 1320.9V1291.55h2V1320.9zM382.25 1320.9V1248.27h2V1320.9zM383.37 1320.9V1269.91h2V1320.9zM384.49 1320.9V1291.55h2V1320.9zM385.62 1320.9V1291.55h2V1320.9zM386.74 1320.9V1291.55h2V1320.9zM387.86 1320.9V1277.12h2V1320.9zM388.98 1320.9V1248.27h2V1320.9zM390.1 1320.9V1255.48h2V1320.9zM391.23 1320.9V1248.27h2V1320.9zM392.35 1320.9V1255.48h2V1320.9zM393.47 1320.9V1241.06h2V1320.9zM394.59 1320.9V1277.12h2V1320.9zM395.71 1320.9V1269.91h2V1320.9zM396.84 1320.9V1241.06h2V1320.9zM397.96 1320.9V1284.34h2V1320.9zM399.08 1320.9V1233.85h2V1320.9zM400.2 1320.9V1291.55h2V1320.9zM401.32 1320.9V1269.91h2V1320.9zM402.45 1320.9V1277.12h2V1320.9zM403.57 1320.9V1277.12h2V1320.9zM404.69 1320.9V1284.34h2V1320.9zM405.81 1320.9V1255.48h2V1320.9zM406.93 1320.9V1154.5h2V1320.9zM408.05 1320.9V1248.27h2V1320.9zM409.18 1320.9V1291.55h2V1320.9zM410.3 1320.9V1291.55h2V1320.9zM411.42 1320.9V1269.91h2V1320.9zM412.54 1320.9V1262.7h2V1320.9zM413.66 1320.9V1291.55h2V1320.9zM414.79 1320.9V1212.21h2V1320.9zM415.91 1320.9V1212.21h2V1320.9zM417.03 1320.9V1291.55h2V1320.9zM418.15 1320.9V1233.85h2V1320.9zM419.27 1320.9V1255.48h2V1320.9zM420.4 1320.9V1168.93h2V1320.9zM421.52 1320.9V1291.55h2V1320.9zM422.64 1320.9V1241.06h2V1320.9zM423.76 1320.9V1291.55h2V1320.9zM424.88 1320.9V1204.99h2V1320.9zM426.01 1320.9V1291.55h2V1320.9zM427.13 1320.9V1277.12h2V1320.9zM428.25 1320.9V1291.55h2V1320.9zM429.37 1320.9V1233.85h2V1320.9zM430.49 1320.9V1241.06h2V1320.9zM431.62 1320.9V1291.55h2V1320.9zM432.74 1320.9V1291.55h2V1320.9zM433.86 1320.9V1248.27h2V1320.9zM434.98 1320.9V1291.55h2V1320.9zM436.1 1320.9V1291.55h2V1320.9zM437.23 1320.9V1204.99h2V1320.9zM438.35 1320.9V1233.85h2V1320.9zM439.47 1320.9V1248.27h2V1320.9zM440.59 1320.9V1233.85h2V1320.9zM441.71 1320.9V1248.27h2V1320.9zM442.83 1320.9V1233.85h2V1320.9zM443.96 1320.9V1277.12h2V1320.9zM445.08 1320.9V1212.21h2V1320.9zM446.2 1320.9V1190.57h2V1320.9zM447.32 1320.9V1291.55h2V1320.9zM448.44 1320.9V1197.78h2V1320.9zM449.57 1320.9V1291.55h2V1320.9zM450.69 1320.9V1248.27h2V1320.9zM451.81 1320.9V1248.27h2V1320.9zM452.93 1320.9V1248.27h2V1320.9zM454.05 1320.9V1291.55h2V1320.9zM455.18 1320.9V1262.7h2V1320.9zM456.3 1320.9V1226.63h2V1320.9zM457.42 1320.9V1233.85h2V1320.9zM458.54 1320.9V1233.85h2V1320.9zM459.66 1320.9V1291.55h2V1320.9zM460.79 1320.9V1291.55h2V1320.9zM461.91 1320.9V1284.34h2V1320.9zM463.03 1320.9V1219.42h2V1320.9zM464.15 1320.9V1255.48h2V1320.9zM465.27 1320.9V1277.12h2V1320.9zM466.4 1320.9V1233.85h2V1320.9zM467.52 1320.9V1190.57h2V1320.9zM468.64 1320.9V1241.06h2V1320.9zM469.76 1320.9V1204.99h2V1320.9zM470.88 1320.9V1204.99h2V1320.9zM472 1320.9V1212.21h2V1320.9zM473.13 1320.9V1233.85h2V1320.9zM474.25 1320.9V1176.14h2V1320.9zM475.37 1320.9V1219.42h2V1320.9zM476.49 1320.9V1241.06h2V1320.9zM477.61 1320.9V1183.36h2V1320.9zM478.74 1320.9V1233.85h2V1320.9zM479.86 1320.9V1284.34h2V1320.9zM480.98 1320.9V1277.12h2V1320.9zM482.1 1320.9V1284.34h2V1320.9zM483.22 1320.9V1183.36h2V1320.9zM484.35 1320.9V1226.63h2V1320.9zM485.47 1320.9V1226.63h2V1320.9zM486.59 1320.9V1255.48h2V1320.9zM487.71 1320.9V1176.14h2V1320.9zM488.83 1320.9V1284.34h2V1320.9zM489.96 1320.9V1277.12h2V1320.9zM491.08 1320.9V1219.42h2V1320.9zM492.2 1320.9V1248.27h2V1320.9zM493.32 1320.9V1262.7h2V1320.9zM494.44 1320.9V1197.78h2V1320.9zM495.57 1320.9V1277.12h2V1320.9zM496.69 1320.9V1241.06h2V1320.9zM497.81 1320.9V1284.34h2V1320.9zM498.93 1320.9V1255.48h2V1320.9zM500.05 1320.9V1277.12h2V1320.9zM501.17 1320.9V1284.34h2V1320.9zM502.3 1320.9V1255.48h2V1320.9zM503.42 1320.9V1161.72h2V1320.9zM504.54 1320.9V1212.21h2V1320.9zM505.66 1320.9V1284.34h2V1320.9zM506.78 1320.9V1183.36h2V1320.9zM507.91 1320.9V1233.85h2V1320.9zM509.03 1320.9V1204.99h2V1320.9zM510.15 1320.9V1204.99h2V1320.9zM511.27 1320.9V1269.91h2V1320.9zM512.39 1320.9V1226.63h2V1320.9zM513.52 1320.9V1284.34h2V1320.9zM514.64 1320.9V1204.99h2V1320.9zM515.76 1320.9V1284.34h2V1320.9zM516.88 1320.9V1190.57h2V1320.9zM518 1320.9V1219.42h2V1320.9zM519.13 1320.9V1154.5h2V1320.9zM520.25 1320.9V1248.27h2V1320.9zM521.37 1320.9V1277.12h2V1320.9zM522.49 1320.9V1241.06h2V1320.9zM523.61 1320.9V1204.99h2V1320.9zM524.74 1320.9V1219.42h2V1320.9zM525.86 1320.9V1277.12h2V1320.9zM526.98 1320.9V1255.48h2V1320.9zM528.1 1320.9V1183.36h2V1320.9zM529.22 1320.9V1284.34h2V1320.9zM530.34 1320.9V1241.06h2V1320.9zM531.47 1320.9V1248.27h2V1320.9zM532.59 1320.9V1277.12h2V1320.9zM533.71 1320.9V1277.12h2V1320.9zM534.83 1320.9V1284.34h2V1320.9zM535.95 1320.9V1219.42h2V1320.9zM537.08 1320.9V1140.08h2V1320.9zM538.2 1320.9V1212.21h2V1320.9zM539.32 1320.9V1241.06h2V1320.9zM540.44 1320.9V1284.34h2V1320.9zM541.56 1320.9V1161.72h2V1320.9zM542.69 1320.9V1241.06h2V1320.9zM543.81 1320.9V1241.06h2V1320.9zM544.93 1320.9V1176.14h2V1320.9zM546.05 1320.9V1248.27h2V1320.9zM547.17 1320.9V1212.21h2V1320.9zM548.3 1320.9V1140.08h2V1320.9zM549.42 1320.9V1219.42h2V1320.9zM550.54 1320.9V1269.91h2V1320.9zM551.66 1320.9V1176.14h2V1320.9zM552.78 1320.9V1183.36h2V1320.9zM553.91 1320.9V1226.63h2V1320.9zM555.03 1320.9V1154.5h2V1320.9zM556.15 1320.9V1284.34h2V1320.9zM557.27 1320.9V1233.85h2V1320.9zM558.39 1320.9V1284.34h2V1320.9zM559.51 1320.9V1255.48h2V1320.9zM560.64 1320.9V1284.34h2V1320.9zM561.76 1320.9V1284.34h2V1320.9zM562.88 1320.9V1212.21h2V1320.9zM564 1320.9V1204.99h2V1320.9zM565.12 1320.9V1277.12h2V1320.9zM566.25 1320.9V1212.21h2V1320.9zM567.37 1320.9V1219.42h2V1320.9zM568.49 1320.9V1197.78h2V1320.9zM569.61 1320.9V1284.34h2V1320.9zM570.73 1320.9V1212.21h2V1320.9zM571.86 1320.9V1284.34h2V1320.9zM572.98 1320.9V1241.06h2V1320.9zM574.1 1320.9V1284.34h2V1320.9zM575.22 1320.9V1241.06h2V1320.9zM576.34 1320.9V1277.12h2V1320.9zM577.47 1320.9V1226.63h2V1320.9zM578.59 1320.9V1161.72h2V1320.9zM579.71 1320.9V1204.99h2V1320.9zM580.83 1320.9V1212.21h2V1320.9zM581.95 1320.9V1219.42h2V1320.9zM583.08 1320.9V1219.42h2V1320.9zM584.2 1320.9V1262.7h2V1320.9zM585.32 1320.9V1183.36h2V1320.9zM586.44 1320.9V1212.21h2V1320.9zM587.56 1320.9V1204.99h2V1320.9zM588.68 1320.9V1284.34h2V1320.9zM589.81 1320.9V1219.42h2V1320.9zM590.93 1320.9V1284.34h2V1320.9zM592.05 1320.9V1161.72h2V1320.9zM593.17 1320.9V1212.21h2V1320.9zM594.29 1320.9V1212.21h2V1320.9zM595.42 1320.9V1284.34h2V1320.9zM596.54 1320.9V1248.27h2V1320.9zM597.66 1320.9V1183.36h2V1320.9zM598.78 1320.9V1277.12h2V1320.9zM599.9 1320.9V1277.12h2V1320.9zM601.03 1320.9V1190.57h2V1320.9zM602.15 1320.9V1241.06h2V1320.9zM603.27 1320.9V1284.34h2V1320.9zM604.39 1320.9V1284.34h2V1320.9zM605.51 1320.9V1161.72h2V1320.9zM606.64 1320.9V1190.57h2V1320.9zM607.76 1320.9V1284.34h2V1320.9zM608.88 1320.9V1154.5h2V1320.9zM610 1320.9V1255.48h2V1320.9zM611.12 1320.9V1262.7h2V1320.9zM612.25 1320.9V1212.21h2V1320.9zM613.37 1320.9V1168.93h2V1320.9zM614.49 1320.9V1284.34h2V1320.9zM615.61 1320.9V1226.63h2V1320.9zM616.73 1320.9V1284.34h2V1320.9zM617.85 1320.9V1269.91h2V1320.9zM618.98 1320.9V1204.99h2V1320.9zM620.1 1320.9V1176.14h2V1320.9zM621.22 1320.9V1219.42h2V1320.9zM622.34 1320.9V1241.06h2V1320.9zM623.46 1320.9V1176.14h2V1320.9zM624.59 1320.9V1255.48h2V1320.9zM625.71 1320.9V1176.14h2V1320.9zM626.83 1320.9V1226.63h2V1320.9zM627.95 1320.9V1212.21h2V1320.9zM629.07 1320.9V1226.63h2V1320.9zM630.2 1320.9V1291.55h2V1320.9zM631.32 1320.9V1291.55h2V1320.9zM632.44 1320.9V1291.55h2V1320.9zM633.56 1320.9V1190.57h2V1320.9zM634.68 1320.9V1291.55h2V1320.9zM635.81 1320.9V1219.42h2V1320.9zM636.93 1320.9V1248.27h2V1320.9zM638.05 1320.9V1248.27h2V1320.9zM639.17 1320.9V1291.55h2V1320.9zM640.29 1320.9V1248.27h2V1320.9zM641.42 1320.9V1248.27h2V1320.9zM642.54 1320.9V1291.55h2V1320.9zM643.66 1320.9V1212.21h2V1320.9zM644.78 1320.9V1262.7h2V1320.9zM645.9 1320.9V1277.12h2V1320.9zM647.02 1320.9V1226.63h2V1320.9zM648.15 1320.9V1291.55h2V1320.9zM649.27 1320.9V1212.21h2V1320.9zM650.39 1320.9V1212.21h2V1320.9zM651.51 1320.9V1298.76h2V1320.9zM652.63 1320.9V1277.12h2V1320.9zM653.76 1320.9V1277.12h2V1320.9zM654.88 1320.9V1277.12h2V1320.9zM656 1320.9V1284.34h2V1320.9zM657.12 1320.9V1226.63h2V1320.9zM658.24 1320.9V1255.48h2V1320.9zM659.37 1320.9V1298.76h2V1320.9zM660.49 1320.9V1298.76h2V1320.9zM661.61 1320.9V1298.76h2V1320.9zM662.73 1320.9V1291.55h2V1320.9zM663.85 1320.9V1255.48h2V1320.9zM664.98 1320.9V1255.48h2V1320.9zM666.1 1320.9V1262.7h2V1320.9zM667.22 1320.9V1255.48h2V1320.9zM668.34 1320.9V1277.12h2V1320.9zM669.46 1320.9V1291.55h2V1320.9zM670.59 1320.9V1269.91h2V1320.9zM671.71 1320.9V1298.76h2V1320.9zM672.83 1320.9V1298.76h2V1320.9zM673.95 1320.9V1298.76h2V1320.9zM675.07 1320.9V1269.91h2V1320.9zM676.19 1320.9V1277.12h2V1320.9zM677.32 1320.9V1291.55h2V1320.9zM678.44 1320.9V1291.55h2V1320.9zM679.56 1320.9V1284.34h2V1320.9zM680.68 1320.9V1277.12h2V1320.9zM681.8 1320.9V1298.76h2V1320.9zM682.93 1320.9V1277.12h2V1320.9zM684.05 1320.9V1277.12h2V1320.9zM685.17 1320.9V1255.48h2V1320.9zM686.29 1320.9V1284.34h2V1320.9zM687.41 1320.9V1269.91h2V1320.9zM688.54 1320.9V1298.76h2V1320.9zM689.66 1320.9V1269.91h2V1320.9zM690.78 1320.9V1298.76h2V1320.9zM691.9 1320.9V1248.27h2V1320.9zM693.02 1320.9V1255.48h2V1320.9zM694.15 1320.9V1255.48h2V1320.9zM695.27 1320.9V1255.48h2V1320.9zM696.39 1320.9V1291.55h2V1320.9zM697.51 1320.9V1269.91h2V1320.9zM698.63 1320.9V1262.7h2V1320.9zM699.76 1320.9V1298.76h2V1320.9zM700.88 1320.9V1269.91h2V1320.9zM702 1320.9V1284.34h2V1320.9zM703.12 1320.9V1298.76h2V1320.9zM704.24 1320.9V1298.76h2V1320.9zM705.36 1320.9V1255.48h2V1320.9zM706.49 1320.9V1291.55h2V1320.9zM707.61 1320.9V1291.55h2V1320.9zM708.73 1320.9V1277.12h2V1320.9zM709.85 1320.9V1277.12h2V1320.9zM710.97 1320.9V1255.48h2V1320.9zM712.1 1320.9V1269.91h2V1320.9zM713.22 1320.9V1298.76h2V1320.9zM714.34 1320.9V1298.76h2V1320.9zM715.46 1320.9V1241.06h2V1320.9zM716.58 1320.9V1269.91h2V1320.9zM717.71 1320.9V1298.76h2V1320.9zM718.83 1320.9V1269.91h2V1320.9zM719.95 1320.9V1262.7h2V1320.9zM721.07 1320.9V1269.91h2V1320.9zM722.19 1320.9V1262.7h2V1320.9zM723.32 1320.9V1233.85h2V1320.9zM724.44 1320.9V1298.76h2V1320.9zM725.56 1320.9V1277.12h2V1320.9zM726.68 1320.9V1284.34h2V1320.9zM727.8 1320.9V1241.06h2V1320.9zM728.93 1320.9V1277.12h2V1320.9zM730.05 1320.9V1255.48h2V1320.9zM731.17 1320.9V1284.34h2V1320.9zM732.29 1320.9V1248.27h2V1320.9zM733.41 1320.9V1241.06h2V1320.9zM734.54 1320.9V1262.7h2V1320.9zM735.66 1320.9V1298.76h2V1320.9zM736.78 1320.9V1284.34h2V1320.9zM737.9 1320.9V1298.76h2V1320.9zM739.02 1320.9V1241.06h2V1320.9zM740.14 1320.9V1298.76h2V1320.9zM741.27 1320.9V1262.7h2V1320.9zM742.39 1320.9V1298.76h2V1320.9zM743.51 1320.9V1277.12h2V1320.9zM744.63 1320.9V1291.55h2V1320.9zM745.75 1320.9V1298.76h2V1320.9zM746.88 1320.9V1241.06h2V1320.9zM748 1320.9V1269.91h2V1320.9zM749.12 1320.9V1277.12h2V1320.9zM750.24 1320.9V1248.27h2V1320.9zM751.36 1320.9V1298.76h2V1320.9zM752.49 1320.9V1262.7h2V1320.9zM753.61 1320.9V1241.06h2V1320.9zM754.73 1320.9V1284.34h2V1320.9zM755.85 1320.9V1262.7h2V1320.9zM756.97 1320.9V1269.91h2V1320.9zM758.1 1320.9V1269.91h2V1320.9zM759.22 1320.9V1219.42h2V1320.9zM760.34 1320.9V1262.7h2V1320.9zM761.46 1320.9V1262.7h2V1320.9zM762.58 1320.9V1262.7h2V1320.9zM763.71 1320.9V1241.06h2V1320.9zM764.83 1320.9V1298.76h2V1320.9zM765.95 1320.9V1298.76h2V1320.9zM767.07 1320.9V1291.55h2V1320.9zM768.19 1320.9V1298.76h2V1320.9zM769.31 1320.9V1277.12h2V1320.9zM770.44 1320.9V1226.63h2V1320.9zM771.56 1320.9V1298.76h2V1320.9zM772.68 1320.9V1277.12h2V1320.9zM773.8 1320.9V1255.48h2V1320.9zM774.92 1320.9V1291.55h2V1320.9zM776.05 1320.9V1277.12h2V1320.9zM777.17 1320.9V1248.27h2V1320.9zM778.29 1320.9V1183.36h2V1320.9zM779.41 1320.9V1219.42h2V1320.9zM780.53 1320.9V1248.27h2V1320.9zM781.66 1320.9V1197.78h2V1320.9zM782.78 1320.9V1248.27h2V1320.9zM783.9 1320.9V1241.06h2V1320.9zM785.02 1320.9V1248.27h2V1320.9zM786.14 1320.9V1248.27h2V1320.9zM787.27 1320.9V1204.99h2V1320.9zM788.39 1320.9V1262.7h2V1320.9zM789.51 1320.9V1248.27h2V1320.9zM790.63 1320.9V1248.27h2V1320.9zM791.75 1320.9V1219.42h2V1320.9zM792.88 1320.9V1291.55h2V1320.9zM794 1320.9V1291.55h2V1320.9zM795.12 1320.9V1248.27h2V1320.9zM796.24 1320.9V1212.21h2V1320.9zM797.36 1320.9V1262.7h2V1320.9zM798.48 1320.9V1219.42h2V1320.9zM799.61 1320.9V1219.42h2V1320.9zM800.73 1320.9V1277.12h2V1320.9zM801.85 1320.9V1255.48h2V1320.9zM802.97 1320.9V1176.14h2V1320.9zM804.09 1320.9V1226.63h2V1320.9zM805.22 1320.9V1291.55h2V1320.9zM806.34 1320.9V1226.63h2V1320.9zM807.46 1320.9V1176.14h2V1320.9zM808.58 1320.9V1197.78h2V1320.9zM809.7 1320.9V1204.99h2V1320.9zM810.83 1320.9V1248.27h2V1320.9zM811.95 1320.9V1291.55h2V1320.9zM813.07 1320.9V1291.55h2V1320.9zM814.19 1320.9V1197.78h2V1320.9zM815.31 1320.9V1241.06h2V1320.9zM816.44 1320.9V1183.36h2V1320.9zM817.56 1320.9V1291.55h2V1320.9zM818.68 1320.9V1204.99h2V1320.9zM819.8 1320.9V1226.63h2V1320.9zM820.92 1320.9V1284.34h2V1320.9zM822.05 1320.9V1248.27h2V1320.9zM823.17 1320.9V1197.78h2V1320.9zM824.29 1320.9V1241.06h2V1320.9zM825.41 1320.9V1197.78h2V1320.9zM826.53 1320.9V1291.55h2V1320.9zM827.65 1320.9V1204.99h2V1320.9zM828.78 1320.9V1248.27h2V1320.9zM829.9 1320.9V1204.99h2V1320.9zM831.02 1320.9V1291.55h2V1320.9zM832.14 1320.9V1255.48h2V1320.9zM833.26 1320.9V1176.14h2V1320.9zM834.39 1320.9V1183.36h2V1320.9zM835.51 1320.9V1284.34h2V1320.9zM836.63 1320.9V1291.55h2V1320.9zM837.75 1320.9V1284.34h2V1320.9zM838.87 1320.9V1262.7h2V1320.9zM840 1320.9V1204.99h2V1320.9zM841.12 1320.9V1291.55h2V1320.9zM842.24 1320.9V1248.27h2V1320.9zM843.36 1320.9V1233.85h2V1320.9zM844.48 1320.9V1284.34h2V1320.9zM845.61 1320.9V1233.85h2V1320.9zM846.73 1320.9V1291.55h2V1320.9zM847.85 1320.9V1291.55h2V1320.9zM848.97 1320.9V1197.78h2V1320.9zM850.09 1320.9V1233.85h2V1320.9zM851.22 1320.9V1291.55h2V1320.9zM852.34 1320.9V1219.42h2V1320.9zM853.46 1320.9V1291.55h2V1320.9zM854.58 1320.9V1183.36h2V1320.9zM855.7 1320.9V1291.55h2V1320.9zM856.82 1320.9V1262.7h2V1320.9zM857.95 1320.9V1226.63h2V1320.9zM859.07 1320.9V1219.42h2V1320.9zM860.19 1320.9V1284.34h2V1320.9zM861.31 1320.9V1233.85h2V1320.9zM862.43 1320.9V1226.63h2V1320.9zM863.56 1320.9V1233.85h2V1320.9zM864.68 1320.9V1204.99h2V1320.9zM865.8 1320.9V1233.85h2V1320.9zM866.92 1320.9V1241.06h2V1320.9zM868.04 1320.9V1291.55h2V1320.9zM869.17 1320.9V1284.34h2V1320.9zM870.29 1320.9V1183.36h2V1320.9zM871.41 1320.9V1291.55h2V1320.9zM872.53 1320.9V1291.55h2V1320.9zM873.65 1320.9V1204.99h2V1320.9zM874.78 1320.9V1284.34h2V1320.9zM875.9 1320.9V1183.36h2V1320.9zM877.02 1320.9V1204.99h2V1320.9zM878.14 1320.9V1241.06h2V1320.9zM879.26 1320.9V1284.34h2V1320.9zM880.39 1320.9V1291.55h2V1320.9z" fill="#a0ecc4"/>
<path d="M881.51 1320.9V1219.42h2V1320.9zM882.63 1320.9V1212.21h2V1320.9zM883.75 1320.9V1197.78h2V1320.9zM884.87 1320.9V1190.57h2V1320.9zM885.99 1320.9V1197.78h2V1320.9zM887.12 1320.9V1226.63h2V1320.9zM888.24 1320.9V1219.42h2V1320.9zM889.36 1320.9V1219.42h2V1320.9zM890.48 1320.9V1241.06h2V1320.9zM891.6 1320.9V1197.78h2V1320.9zM892.73 1320.9V1248.27h2V1320.9zM893.85 1320.9V1197.78h2V1320.9zM894.97 1320.9V1226.63h2V1320.9zM896.09 1320.9V1241.06h2V1320.9zM897.21 1320.9V1204.99h2V1320.9zM898.34 1320.9V1197.78h2V1320.9zM899.46 1320.9V1255.48h2V1320.9zM900.58 1320.9V1219.42h2V1320.9zM901.7 1320.9V1197.78h2V1320.9zM902.82 1320.9V1197.78h2V1320.9zM903.95 1320.9V1219.42h2V1320.9zM905.07 1320.9V1190.57h2V1320.9zM906.19 1320.9V1212.21h2V1320.9zM907.31 1320.9V1219.42h2V1320.9zM908.43 1320.9V1154.5h2V1320.9zM909.56 1320.9V1190.57h2V1320.9zM910.68 1320.9V1197.78h2V1320.9zM911.8 1320.9V1219.42h2V1320.9zM912.92 1320.9V1204.99h2V1320.9zM914.04 1320.9V1190.57h2V1320.9zM915.16 1320.9V1262.7h2V1320.9zM916.29 1320.9V1262.7h2V1320.9zM917.41 1320.9V1204.99h2V1320.9zM918.53 1320.9V1233.85h2V1320.9zM919.65 1320.9V1248.27h2V1320.9zM920.77 1320.9V1248.27h2V1320.9zM921.9 1320.9V1204.99h2V1320.9zM923.02 1320.9V1168.93h2V1320.9zM924.14 1320.9V1277.12h2V1320.9zM925.26 1320.9V1219.42h2V1320.9zM926.38 1320.9V1248.27h2V1320.9zM927.51 1320.9V1269.91h2V1320.9zM928.63 1320.9V1241.06h2V1320.9zM929.75 1320.9V1262.7h2V1320.9zM930.87 1320.9V1212.21h2V1320.9zM931.99 1320.9V1269.91h2V1320.9zM933.12 1320.9V1269.91h2V1320.9zM934.24 1320.9V1226.63h2V1320.9zM935.36 1320.9V1269.91h2V1320.9zM936.48 1320.9V1255.48h2V1320.9zM937.6 1320.9V1255.48h2V1320.9zM938.73 1320.9V1255.48h2V1320.9zM939.85 1320.9V1248.27h2V1320.9zM940.97 1320.9V1190.57h2V1320.9zM942.09 1320.9V1269.91h2V1320.9zM943.21 1320.9V1248.27h2V1320.9zM944.33 1320.9V1269.91h2V1320.9zM945.46 1320.9V1241.06h2V1320.9zM946.58 1320.9V1241.06h2V1320.9zM947.7 1320.9V1277.12h2V1320.9zM948.82 1320.9V1226.63h2V1320.9zM949.94 1320.9V1255.48h2V1320.9zM951.07 1320.9V1204.99h2V1320.9zM952.19 1320.9V1284.34h2V1320.9zM953.31 1320.9V1269.91h2V1320.9zM954.43 1320.9V1277.12h2V1320.9zM955.55 1320.9V1262.7h2V1320.9zM956.68 1320.9V1277.12h2V1320.9zM957.8 1320.9V1233.85h2V1320.9zM958.92 1320.9V1284.34h2V1320.9zM960.04 1320.9V1277.12h2V1320.9zM961.16 1320.9V1269.91h2V1320.9zM962.29 1320.9V1277.12h2V1320.9zM963.41 1320.9V1241.06h2V1320.9zM964.53 1320.9V1262.7h2V1320.9zM965.65 1320.9V1277.12h2V1320.9zM966.77 1320.9V1226.63h2V1320.9zM967.9 1320.9V1277.12h2V1320.9zM969.02 1320.9V1255.48h2V1320.9zM970.14 1320.9V1255.48h2V1320.9zM971.26 1320.9V1277.12h2V1320.9zM972.38 1320.9V1284.34h2V1320.9zM973.5 1320.9V1255.48h2V1320.9zM974.63 1320.9V1226.63h2V1320.9zM975.75 1320.9V1291.55h2V1320.9zM976.87 1320.9V1284.34h2V1320.9zM977.99 1320.9V1277.12h2V1320.9zM979.11 1320.9V1262.7h2V1320.9zM980.24 1320.9V1269.91h2V1320.9zM981.36 1320.9V1291.55h2V1320.9zM982.48 1320.9V1284.34h2V1320.9zM983.6 1320.9V1284.34h2V1320.9zM984.72 1320.9V1241.06h2V1320.9zM985.85 1320.9V1269.91h2V1320.9zM986.97 1320.9V1277.12h2V1320.9zM988.09 1320.9V1262.7h2V1320.9zM989.21 1320.9V1284.34h2V1320.9zM990.33 1320.9V1269.91h2V1320.9zM991.46 1320.9V1262.7h2V1320.9zM992.58 1320.9V1284.34h2V1320.9zM993.7 1320.9V1291.55h2V1320.9zM994.82 1320.9V1284.34h2V1320.9zM995.94 1320.9V1298.76h2V1320.9zM997.07 1320.9V1262.7h2V1320.9zM998.19 1320.9V1277.12h2V1320.9zM999.31 1320.9V1284.34h2V1320.9zM1000.43 1320.9V1284.34h2V1320.9zM1001.55 1320.9V1291.55h2V1320.9zM1002.68 1320.9V1291.55h2V1320.9zM1003.8 1320.9V1284.34h2V1320.9zM1004.92 1320.9V1277.12h2V1320.9zM1006.04 1320.9V1298.76h2V1320.9zM1007.16 1320.9V1298.76h2V1320.9zM1008.28 1320.9V1298.76h2V1320.9zM1009.41 1320.9V1298.76h2V1320.9zM1010.53 1320.9V1298.76h2V1320.9zM1011.65 1320.9V1298.76h2V1320.9zM1012.77 1320.9V1298.76h2V1320.9zM1013.89 1320.9V1298.76h2V1320.9zM1015.02 1320.9V1298.76h2V1320.9zM1016.14 1320.9V1298.76h2V1320.9zM1017.26 1320.9V1298.76h2V1320.9zM1018.38 1320.9V1298.76h2V1320.9zM1019.5 1320.9V1298.76h2V1320.9zM1020.63 1320.9V1298.76h2V1320.9zM1021.75 1320.9V1298.76h2V1320.9zM1022.87 1320.9V1298.76h2V1320.9zM1023.99 1320.9V1298.76h2V1320.9zM1025.11 1320.9V1262.7h2V1320.9zM1026.24 1320.9V1298.76h2V1320.9zM1027.36 1320.9V1298.76h2V1320.9zM1028.48 1320.9V1298.76h2V1320.9z" fill="#249170"/>
<path d="M1029.6 1320.9V1291.55h2V1320.9zM1030.72 1320.9V1291.55h2V1320.9zM1031.85 1320.9V1298.76h2V1320.9zM1032.97 1320.9V1298.76h2V1320.9zM1034.09 1320.9V1291.55h2V1320.9zM1035.21 1320.9V1298.76h2V1320.9zM1036.33 1320.9V1248.27h2V1320.9zM1037.45 1320.9V1291.55h2V1320.9zM1038.58 1320.9V1291.55h2V1320.9zM1039.7 1320.9V1298.76h2V1320.9zM1040.82 1320.9V1284.34h2V1320.9zM1041.94 1320.9V1291.55h2V1320.9zM1043.06 1320.9V1291.55h2V1320.9zM1044.19 1320.9V1277.12h2V1320.9zM1045.31 1320.9V1262.7h2V1320.9zM1046.43 1320.9V1298.76h2V1320.9zM1047.55 1320.9V1298.76h2V1320.9zM1048.67 1320.9V1298.76h2V1320.9zM1049.8 1320.9V1298.76h2V1320.9zM1050.92 1320.9V1291.55h2V1320.9zM1052.04 1320.9V1298.76h2V1320.9zM1053.16 1320.9V1248.27h2V1320.9zM1054.28 1320.9V1298.76h2V1320.9zM1055.41 1320.9V1277.12h2V1320.9zM1056.53 1320.9V1298.76h2V1320.9zM1057.65 1320.9V1212.21h2V1320.9zM1058.77 1320.9V1226.63h2V1320.9zM1059.89 1320.9V1226.63h2V1320.9zM1061.02 1320.9V1219.42h2V1320.9zM1062.14 1320.9V1291.55h2V1320.9zM1063.26 1320.9V1291.55h2V1320.9zM1064.38 1320.9V1248.27h2V1320.9zM1065.5 1320.9V1212.21h2V1320.9zM1066.62 1320.9V1284.34h2V1320.9zM1067.75 1320.9V1284.34h2V1320.9zM1068.87 1320.9V1226.63h2V1320.9zM1069.99 1320.9V1233.85h2V1320.9zM1071.11 1320.9V1183.36h2V1320.9zM1072.23 1320.9V1291.55h2V1320.9zM1073.36 1320.9V1219.42h2V1320.9zM1074.48 1320.9V1248.27h2V1320.9zM1075.6 1320.9V1226.63h2V1320.9zM1076.72 1320.9V1248.27h2V1320.9zM1077.84 1320.9V1269.91h2V1320.9zM1078.97 1320.9V1233.85h2V1320.9zM1080.09 1320.9V1241.06h2V1320.9zM1081.21 1320.9V1291.55h2V1320.9zM1082.33 1320.9V1241.06h2V1320.9zM1083.45 1320.9V1176.14h2V1320.9zM1084.58 1320.9V1226.63h2V1320.9zM1085.7 1320.9V1226.63h2V1320.9zM1086.82 1320.9V1291.55h2V1320.9zM1087.94 1320.9V1219.42h2V1320.9zM1089.06 1320.9V1291.55h2V1320.9zM1090.19 1320.9V1262.7h2V1320.9zM1091.31 1320.9V1291.55h2V1320.9zM1092.43 1320.9V1248.27h2V1320.9zM1093.55 1320.9V1204.99h2V1320.9zM1094.67 1320.9V1183.36h2V1320.9zM1095.79 1320.9V1176.14h2V1320.9zM1096.92 1320.9V1262.7h2V1320.9zM1098.04 1320.9V1269.91h2V1320.9zM1099.16 1320.9V1183.36h2V1320.9zM1100.28 1320.9V1204.99h2V1320.9zM1101.4 1320.9V1183.36h2V1320.9zM1102.53 1320.9V1168.93h2V1320.9zM1103.65 1320.9V1248.27h2V1320.9zM1104.77 1320.9V1248.27h2V1320.9zM1105.89 1320.9V1176.14h2V1320.9zM1107.01 1320.9V1212.21h2V1320.9zM1108.14 1320.9V1248.27h2V1320.9zM1109.26 1320.9V1161.72h2V1320.9zM1110.38 1320.9V1161.72h2V1320.9zM1111.5 1320.9V1269.91h2V1320.9zM1112.62 1320.9V1168.93h2V1320.9zM1113.75 1320.9V1212.21h2V1320.9zM1114.87 1320.9V1212.21h2V1320.9zM1115.99 1320.9V1212.21h2V1320.9zM1117.11 1320.9V1190.57h2V1320.9zM1118.23 1320.9V1204.99h2V1320.9zM1119.36 1320.9V1262.7h2V1320.9zM1120.48 1320.9V1176.14h2V1320.9zM1121.6 1320.9V1190.57h2V1320.9zM1122.72 1320.9V1204.99h2V1320.9zM1123.84 1320.9V1269.91h2V1320.9zM1124.96 1320.9V1284.34h2V1320.9zM1126.09 1320.9V1168.93h2V1320.9zM1127.21 1320.9V1233.85h2V1320.9zM1128.33 1320.9V1255.48h2V1320.9zM1129.45 1320.9V1219.42h2V1320.9zM1130.57 1320.9V1233.85h2V1320.9zM1131.7 1320.9V1190.57h2V1320.9zM1132.82 1320.9V1255.48h2V1320.9zM1133.94 1320.9V1219.42h2V1320.9zM1135.06 1320.9V1176.14h2V1320.9zM1136.18 1320.9V1241.06h2V1320.9zM1137.31 1320.9V1212.21h2V1320.9zM1138.43 1320.9V1154.5h2V1320.9zM1139.55 1320.9V1284.34h2V1320.9zM1140.67 1320.9V1233.85h2V1320.9zM1141.79 1320.9V1277.12h2V1320.9zM1142.92 1320.9V1226.63h2V1320.9zM1144.04 1320.9V1190.57h2V1320.9zM1145.16 1320.9V1204.99h2V1320.9zM1146.28 1320.9V1277.12h2V1320.9zM1147.4 1320.9V1226.63h2V1320.9zM1148.53 1320.9V1284.34h2V1320.9zM1149.65 1320.9V1284.34h2V1320.9zM1150.77 1320.9V1262.7h2V1320.9zM1151.89 1320.9V1248.27h2V1320.9zM1153.01 1320.9V1233.85h2V1320.9zM1154.13 1320.9V1284.34h2V1320.9zM1155.26 1320.9V1241.06h2V1320.9zM1156.38 1320.9V1262.7h2V1320.9zM1157.5 1320.9V1154.5h2V1320.9zM1158.62 1320.9V1284.34h2V1320.9zM1159.74 1320.9V1183.36h2V1320.9zM1160.87 1320.9V1212.21h2V1320.9zM1161.99 1320.9V1241.06h2V1320.9zM1163.11 1320.9V1204.99h2V1320.9zM1164.23 1320.9V1241.06h2V1320.9zM1165.35 1320.9V1161.72h2V1320.9zM1166.48 1320.9V1161.72h2V1320.9zM1167.6 1320.9V1284.34h2V1320.9zM1168.72 1320.9V1154.5h2V1320.9zM1169.84 1320.9V1284.34h2V1320.9zM1170.96 1320.9V1176.14h2V1320.9zM1172.09 1320.9V1241.06h2V1320.9zM1173.21 1320.9V1277.12h2V1320.9zM1174.33 1320.9V1168.93h2V1320.9zM1175.45 1320.9V1248.27h2V1320.9zM1176.57 1320.9V1248.27h2V1320.9zM1177.7 1320.9V1233.85h2V1320.9zM1178.82 1320.9V1284.34h2V1320.9zM1179.94 1320.9V1168.93h2V1320.9zM1181.06 1320.9V1183.36h2V1320.9zM1182.18 1320.9V1277.12h2V1320.9zM1183.3 1320.9V1255.48h2V1320.9zM1184.43 1320.9V1284.34h2V1320.9zM1185.55 1320.9V1226.63h2V1320.9zM1186.67 1320.9V1284.34h2V1320.9zM1187.79 1320.9V1161.72h2V1320.9zM1188.91 1320.9V1219.42h2V1320.9zM1190.04 1320.9V1168.93h2V1320.9zM1191.16 1320.9V1219.42h2V1320.9zM1192.28 1320.9V1140.08h2V1320.9zM1193.4 1320.9V1161.72h2V1320.9zM1194.52 1320.9V1277.12h2V1320.9zM1195.65 1320.9V1212.21h2V1320.9zM1196.77 1320.9V1284.34h2V1320.9zM1197.89 1320.9V1277.12h2V1320.9zM1199.01 1320.9V1147.29h2V1320.9zM1200.13 1320.9V1212.21h2V1320.9zM1201.26 1320.9V1190.57h2V1320.9zM1202.38 1320.9V1147.29h2V1320.9zM1203.5 1320.9V1262.7h2V1320.9z" fill="#a0ecc4"/>
<path d="M1204.62 1320.9V1212.21h2V1320.9zM1205.74 1320.9V1212.21h2V1320.9zM1206.87 1320.9V1197.78h2V1320.9zM1207.99 1320.9V1219.42h2V1320.9zM1209.11 1320.9V1233.85h2V1320.9zM1210.23 1320.9V1204.99h2V1320.9zM1211.35 1320.9V1248.27h2V1320.9zM1212.47 1320.9V1241.06h2V1320.9zM1213.6 1320.9V1212.21h2V1320.9zM1214.72 1320.9V1183.36h2V1320.9zM1215.84 1320.9V1161.72h2V1320.9zM1216.96 1320.9V1219.42h2V1320.9zM1218.08 1320.9V1197.78h2V1320.9zM1219.21 1320.9V1132.87h2V1320.9zM1220.33 1320.9V1204.99h2V1320.9zM1221.45 1320.9V1147.29h2V1320.9zM1222.57 1320.9V1219.42h2V1320.9zM1223.69 1320.9V1154.5h2V1320.9zM1224.82 1320.9V1161.72h2V1320.9zM1225.94 1320.9V1168.93h2V1320.9zM1227.06 1320.9V1125.65h2V1320.9zM1228.18 1320.9V1212.21h2V1320.9zM1229.3 1320.9V1190.57h2V1320.9zM1230.43 1320.9V1226.63h2V1320.9zM1231.55 1320.9V1147.29h2V1320.9zM1232.67 1320.9V1089.59h2V1320.9zM1233.79 1320.9V1161.72h2V1320.9zM1234.91 1320.9V1104.01h2V1320.9zM1236.04 1320.9V1176.14h2V1320.9zM1237.16 1320.9V1168.93h2V1320.9zM1238.28 1320.9V1233.85h2V1320.9zM1239.4 1320.9V1125.65h2V1320.9zM1240.52 1320.9V1233.85h2V1320.9zM1241.64 1320.9V829.93h2V1320.9zM1242.77 1320.9V1233.85h2V1320.9zM1243.89 1320.9V1248.27h2V1320.9zM1245.01 1320.9V1176.14h2V1320.9zM1246.13 1320.9V1255.48h2V1320.9zM1247.25 1320.9V1219.42h2V1320.9zM1248.38 1320.9V1255.48h2V1320.9zM1249.5 1320.9V1197.78h2V1320.9zM1250.62 1320.9V1248.27h2V1320.9zM1251.74 1320.9V959.76h2V1320.9zM1252.86 1320.9V1219.42h2V1320.9zM1253.99 1320.9V1125.65h2V1320.9zM1255.11 1320.9V1168.93h2V1320.9zM1256.23 1320.9V1226.63h2V1320.9zM1257.35 1320.9V1176.14h2V1320.9zM1258.47 1320.9V1154.5h2V1320.9zM1259.6 1320.9V1183.36h2V1320.9zM1260.72 1320.9V1255.48h2V1320.9zM1261.84 1320.9V1204.99h2V1320.9zM1262.96 1320.9V1255.48h2V1320.9zM1264.08 1320.9V1262.7h2V1320.9zM1265.21 1320.9V1233.85h2V1320.9zM1266.33 1320.9V1154.5h2V1320.9zM1267.45 1320.9V1269.91h2V1320.9zM1268.57 1320.9V1277.12h2V1320.9zM1269.69 1320.9V1248.27h2V1320.9zM1270.81 1320.9V1226.63h2V1320.9zM1271.94 1320.9V1262.7h2V1320.9zM1273.06 1320.9V1255.48h2V1320.9zM1274.18 1320.9V1226.63h2V1320.9zM1275.3 1320.9V1262.7h2V1320.9zM1276.42 1320.9V1219.42h2V1320.9zM1277.55 1320.9V1161.72h2V1320.9zM1278.67 1320.9V1277.12h2V1320.9zM1279.79 1320.9V1183.36h2V1320.9zM1280.91 1320.9V1269.91h2V1320.9zM1282.03 1320.9V1284.34h2V1320.9zM1283.16 1320.9V1255.48h2V1320.9zM1284.28 1320.9V1284.34h2V1320.9zM1285.4 1320.9V1219.42h2V1320.9zM1286.52 1320.9V1277.12h2V1320.9zM1287.64 1320.9V1269.91h2V1320.9zM1288.77 1320.9V1277.12h2V1320.9zM1289.89 1320.9V1212.21h2V1320.9zM1291.01 1320.9V1226.63h2V1320.9zM1292.13 1320.9V1269.91h2V1320.9zM1293.25 1320.9V1183.36h2V1320.9zM1294.38 1320.9V1269.91h2V1320.9zM1295.5 1320.9V1269.91h2V1320.9zM1296.62 1320.9V1226.63h2V1320.9zM1297.74 1320.9V1176.14h2V1320.9zM1298.86 1320.9V1176.14h2V1320.9zM1299.99 1320.9V1118.44h2V1320.9zM1301.11 1320.9V1233.85h2V1320.9zM1302.23 1320.9V1197.78h2V1320.9zM1303.35 1320.9V1147.29h2V1320.9zM1304.47 1320.9V1176.14h2V1320.9zM1305.59 1320.9V1255.48h2V1320.9zM1306.72 1320.9V1140.08h2V1320.9zM1307.84 1320.9V1190.57h2V1320.9zM1308.96 1320.9V1219.42h2V1320.9zM1310.08 1320.9V1233.85h2V1320.9zM1311.2 1320.9V1248.27h2V1320.9zM1312.33 1320.9V1190.57h2V1320.9zM1313.45 1320.9V1269.91h2V1320.9zM1314.57 1320.9V1277.12h2V1320.9zM1315.69 1320.9V1269.91h2V1320.9zM1316.81 1320.9V1183.36h2V1320.9zM1317.94 1320.9V1233.85h2V1320.9zM1319.06 1320.9V1233.85h2V1320.9zM1320.18 1320.9V1212.21h2V1320.9zM1321.3 1320.9V1277.12h2V1320.9zM1322.42 1320.9V1212.21h2V1320.9zM1323.55 1320.9V1140.08h2V1320.9zM1324.67 1320.9V1183.36h2V1320.9zM1325.79 1320.9V1197.78h2V1320.9zM1326.91 1320.9V1154.5h2V1320.9zM1328.03 1320.9V1212.21h2V1320.9zM1329.16 1320.9V1277.12h2V1320.9zM1330.28 1320.9V1255.48h2V1320.9zM1331.4 1320.9V1269.91h2V1320.9zM1332.52 1320.9V1190.57h2V1320.9zM1333.64 1320.9V1262.7h2V1320.9zM1334.76 1320.9V1291.55h2V1320.9zM1335.89 1320.9V1226.63h2V1320.9zM1337.01 1320.9V1269.91h2V1320.9zM1338.13 1320.9V1233.85h2V1320.9zM1339.25 1320.9V1219.42h2V1320.9zM1340.37 1320.9V1233.85h2V1320.9zM1341.5 1320.9V1241.06h2V1320.9zM1342.62 1320.9V1269.91h2V1320.9zM1343.74 1320.9V1269.91h2V1320.9zM1344.86 1320.9V1255.48h2V1320.9zM1345.98 1320.9V1233.85h2V1320.9zM1347.11 1320.9V1277.12h2V1320.9zM1348.23 1320.9V1255.48h2V1320.9zM1349.35 1320.9V1277.12h2V1320.9zM1350.47 1320.9V1284.34h2V1320.9zM1351.59 1320.9V1248.27h2V1320.9z" fill="#249170"/>
<path d="M1352.72 1320.9V1255.48h2V1320.9zM1353.84 1320.9V1255.48h2V1320.9zM1354.96 1320.9V1219.42h2V1320.9zM1356.08 1320.9V1190.57h2V1320.9zM1357.2 1320.9V1233.85h2V1320.9zM1358.33 1320.9V1298.76h2V1320.9zM1359.45 1320.9V1241.06h2V1320.9zM1360.57 1320.9V1219.42h2V1320.9zM1361.69 1320.9V1291.55h2V1320.9zM1362.81 1320.9V1204.99h2V1320.9zM1363.93 1320.9V1269.91h2V1320.9zM1365.06 1320.9V1226.63h2V1320.9zM1366.18 1320.9V1226.63h2V1320.9zM1367.3 1320.9V1255.48h2V1320.9zM1368.42 1320.9V1241.06h2V1320.9zM1369.54 1320.9V1298.76h2V1320.9zM1370.67 1320.9V1255.48h2V1320.9zM1371.79 1320.9V1291.55h2V1320.9zM1372.91 1320.9V1233.85h2V1320.9zM1374.03 1320.9V1197.78h2V1320.9zM1375.15 1320.9V1277.12h2V1320.9zM1376.28 1320.9V1241.06h2V1320.9zM1377.4 1320.9V1161.72h2V1320.9zM1378.52 1320.9V1219.42h2V1320.9zM1379.64 1320.9V1291.55h2V1320.9zM1380.76 1320.9V1226.63h2V1320.9zM1381.89 1320.9V1298.76h2V1320.9zM1383.01 1320.9V1241.06h2V1320.9zM1384.13 1320.9V1248.27h2V1320.9zM1385.25 1320.9V1291.55h2V1320.9zM1386.37 1320.9V1255.48h2V1320.9zM1387.5 1320.9V1219.42h2V1320.9zM1388.62 1320.9V1241.06h2V1320.9zM1389.74 1320.9V1255.48h2V1320.9zM1390.86 1320.9V1291.55h2V1320.9zM1391.98 1320.9V1219.42h2V1320.9zM1393.1 1320.9V1219.42h2V1320.9zM1394.23 1320.9V1241.06h2V1320.9zM1395.35 1320.9V1298.76h2V1320.9zM1396.47 1320.9V1298.76h2V1320.9zM1397.59 1320.9V1219.42h2V1320.9zM1398.71 1320.9V1269.91h2V1320.9zM1399.84 1320.9V1255.48h2V1320.9zM1400.96 1320.9V1212.21h2V1320.9zM1402.08 1320.9V1248.27h2V1320.9zM1403.2 1320.9V1277.12h2V1320.9zM1404.32 1320.9V1241.06h2V1320.9zM1405.45 1320.9V1219.42h2V1320.9zM1406.57 1320.9V1226.63h2V1320.9zM1407.69 1320.9V1219.42h2V1320.9zM1408.81 1320.9V1277.12h2V1320.9zM1409.93 1320.9V1241.06h2V1320.9zM1411.06 1320.9V1212.21h2V1320.9zM1412.18 1320.9V1233.85h2V1320.9zM1413.3 1320.9V1298.76h2V1320.9zM1414.42 1320.9V1284.34h2V1320.9zM1415.54 1320.9V1219.42h2V1320.9zM1416.67 1320.9V1248.27h2V1320.9zM1417.79 1320.9V1176.14h2V1320.9zM1418.91 1320.9V1255.48h2V1320.9zM1420.03 1320.9V1248.27h2V1320.9zM1421.15 1320.9V1233.85h2V1320.9zM1422.27 1320.9V1298.76h2V1320.9zM1423.4 1320.9V1233.85h2V1320.9zM1424.52 1320.9V1168.93h2V1320.9zM1425.64 1320.9V1226.63h2V1320.9zM1426.76 1320.9V1277.12h2V1320.9zM1427.88 1320.9V1298.76h2V1320.9zM1429.01 1320.9V1291.55h2V1320.9zM1430.13 1320.9V1241.06h2V1320.9zM1431.25 1320.9V1262.7h2V1320.9zM1432.37 1320.9V1248.27h2V1320.9zM1433.49 1320.9V1255.48h2V1320.9zM1434.62 1320.9V1298.76h2V1320.9zM1435.74 1320.9V1248.27h2V1320.9zM1436.86 1320.9V1298.76h2V1320.9zM1437.98 1320.9V1298.76h2V1320.9zM1439.1 1320.9V1219.42h2V1320.9zM1440.23 1320.9V1241.06h2V1320.9zM1441.35 1320.9V1291.55h2V1320.9zM1442.47 1320.9V1291.55h2V1320.9zM1443.59 1320.9V1204.99h2V1320.9zM1444.71 1320.9V1219.42h2V1320.9zM1445.84 1320.9V1298.76h2V1320.9zM1446.96 1320.9V1219.42h2V1320.9zM1448.08 1320.9V1204.99h2V1320.9zM1449.2 1320.9V1219.42h2V1320.9zM1450.32 1320.9V1284.34h2V1320.9zM1451.44 1320.9V1262.7h2V1320.9zM1452.57 1320.9V1248.27h2V1320.9zM1453.69 1320.9V1219.42h2V1320.9zM1454.81 1320.9V1291.55h2V1320.9zM1455.93 1320.9V1219.42h2V1320.9zM1457.05 1320.9V1269.91h2V1320.9zM1458.18 1320.9V1291.55h2V1320.9zM1459.3 1320.9V1154.5h2V1320.9zM1460.42 1320.9V1219.42h2V1320.9zM1461.54 1320.9V1212.21h2V1320.9zM1462.66 1320.9V1197.78h2V1320.9zM1463.79 1320.9V1284.34h2V1320.9zM1464.91 1320.9V1248.27h2V1320.9zM1466.03 1320.9V1241.06h2V1320.9zM1467.15 1320.9V1219.42h2V1320.9zM1468.27 1320.9V1212.21h2V1320.9zM1469.4 1320.9V1176.14h2V1320.9zM1470.52 1320.9V1226.63h2V1320.9zM1471.64 1320.9V1197.78h2V1320.9zM1472.76 1320.9V1291.55h2V1320.9zM1473.88 1320.9V1226.63h2V1320.9zM1475.01 1320.9V1204.99h2V1320.9zM1476.13 1320.9V1284.34h2V1320.9zM1477.25 1320.9V1183.36h2V1320.9zM1478.37 1320.9V1219.42h2V1320.9zM1479.49 1320.9V1277.12h2V1320.9zM1480.61 1320.9V1190.57h2V1320.9zM1481.74 1320.9V1168.93h2V1320.9zM1482.86 1320.9V1219.42h2V1320.9zM1483.98 1320.9V1241.06h2V1320.9zM1485.1 1320.9V1241.06h2V1320.9zM1486.22 1320.9V1248.27h2V1320.9zM1487.35 1320.9V1269.91h2V1320.9zM1488.47 1320.9V1147.29h2V1320.9zM1489.59 1320.9V1197.78h2V1320.9zM1490.71 1320.9V1226.63h2V1320.9zM1491.83 1320.9V1226.63h2V1320.9zM1492.96 1320.9V1219.42h2V1320.9zM1494.08 1320.9V1219.42h2V1320.9zM1495.2 1320.9V1291.55h2V1320.9zM1496.32 1320.9V1262.7h2V1320.9zM1497.44 1320.9V1284.34h2V1320.9zM1498.57 1320.9V1154.5h2V1320.9zM1499.69 1320.9V1241.06h2V1320.9zM1500.81 1320.9V1248.27h2V1320.9zM1501.93 1320.9V1284.34h2V1320.9zM1503.05 1320.9V1168.93h2V1320.9zM1504.18 1320.9V1291.55h2V1320.9zM1505.3 1320.9V1291.55h2V1320.9zM1506.42 1320.9V1219.42h2V1320.9zM1507.54 1320.9V1226.63h2V1320.9zM1508.66 1320.9V1277.12h2V1320.9zM1509.78 1320.9V1255.48h2V1320.9zM1510.91 1320.9V1291.55h2V1320.9zM1512.03 1320.9V1197.78h2V1320.9zM1513.15 1320.9V1291.55h2V1320.9zM1514.27 1320.9V1161.72h2V1320.9zM1515.39 1320.9V1291.55h2V1320.9zM1516.52 1320.9V1212.21h2V1320.9zM1517.64 1320.9V1269.91h2V1320.9zM1518.76 1320.9V1233.85h2V1320.9zM1519.88 1320.9V1212.21h2V1320.9zM1521 1320.9V1161.72h2V1320.9zM1522.13 1320.9V1219.42h2V1320.9zM1523.25 1320.9V1197.78h2V1320.9zM1524.37 1320.9V1219.42h2V1320.9zM1525.49 1320.9V1161.72h2V1320.9zM1526.61 1320.9V1204.99h2V1320.9z" fill="#a0ecc4"/>
<path d="M1527.74 1320.9V1241.06h2V1320.9zM1528.86 1320.9V1233.85h2V1320.9zM1529.98 1320.9V1226.63h2V1320.9zM1531.1 1320.9V1219.42h2V1320.9zM1532.22 1320.9V1241.06h2V1320.9zM1533.35 1320.9V1219.42h2V1320.9zM1534.47 1320.9V1233.85h2V1320.9zM1535.59 1320.9V1147.29h2V1320.9zM1536.71 1320.9V1241.06h2V1320.9zM1537.83 1320.9V1219.42h2V1320.9zM1538.95 1320.9V1241.06h2V1320.9zM1540.08 1320.9V1241.06h2V1320.9zM1541.2 1320.9V1197.78h2V1320.9zM1542.32 1320.9V1233.85h2V1320.9zM1543.44 1320.9V1197.78h2V1320.9zM1544.56 1320.9V1176.14h2V1320.9zM1545.69 1320.9V1082.38h2V1320.9zM1546.81 1320.9V1161.72h2V1320.9zM1547.93 1320.9V1212.21h2V1320.9zM1549.05 1320.9V1147.29h2V1320.9zM1550.17 1320.9V1176.14h2V1320.9zM1551.3 1320.9V1161.72h2V1320.9zM1552.42 1320.9V1132.87h2V1320.9zM1553.54 1320.9V1197.78h2V1320.9zM1554.66 1320.9V1212.21h2V1320.9zM1555.78 1320.9V1154.5h2V1320.9zM1556.91 1320.9V1154.5h2V1320.9zM1558.03 1320.9V1190.57h2V1320.9zM1559.15 1320.9V1132.87h2V1320.9zM1560.27 1320.9V1190.57h2V1320.9zM1561.39 1320.9V1204.99h2V1320.9zM1562.52 1320.9V1147.29h2V1320.9zM1563.64 1320.9V1183.36h2V1320.9zM1564.76 1320.9V1168.93h2V1320.9zM1565.88 1320.9V1197.78h2V1320.9zM1567 1320.9V1176.14h2V1320.9zM1568.13 1320.9V1176.14h2V1320.9zM1569.25 1320.9V1183.36h2V1320.9zM1570.37 1320.9V1125.65h2V1320.9zM1571.49 1320.9V1190.57h2V1320.9zM1572.61 1320.9V1154.5h2V1320.9zM1573.73 1320.9V1053.52h2V1320.9zM1574.86 1320.9V1190.57h2V1320.9zM1575.98 1320.9V1003.03h2V1320.9zM1577.1 1320.9V1003.03h2V1320.9zM1578.22 1320.9V1183.36h2V1320.9zM1579.34 1320.9V1233.85h2V1320.9zM1580.47 1320.9V1190.57h2V1320.9zM1581.59 1320.9V1262.7h2V1320.9zM1582.71 1320.9V1277.12h2V1320.9zM1583.83 1320.9V1255.48h2V1320.9zM1584.95 1320.9V1269.91h2V1320.9zM1586.08 1320.9V1262.7h2V1320.9zM1587.2 1320.9V1262.7h2V1320.9zM1588.32 1320.9V1190.57h2V1320.9zM1589.44 1320.9V1262.7h2V1320.9zM1590.56 1320.9V1060.74h2V1320.9zM1591.69 1320.9V1176.14h2V1320.9zM1592.81 1320.9V1255.48h2V1320.9zM1593.93 1320.9V1241.06h2V1320.9zM1595.05 1320.9V1248.27h2V1320.9zM1596.17 1320.9V1190.57h2V1320.9zM1597.3 1320.9V1190.57h2V1320.9zM1598.42 1320.9V1183.36h2V1320.9zM1599.54 1320.9V1140.08h2V1320.9zM1600.66 1320.9V1197.78h2V1320.9zM1601.78 1320.9V1125.65h2V1320.9zM1602.9 1320.9V1269.91h2V1320.9zM1604.03 1320.9V1075.16h2V1320.9zM1605.15 1320.9V1031.89h2V1320.9zM1606.27 1320.9V1197.78h2V1320.9zM1607.39 1320.9V1125.65h2V1320.9zM1608.51 1320.9V1255.48h2V1320.9zM1609.64 1320.9V1226.63h2V1320.9zM1610.76 1320.9V1241.06h2V1320.9zM1611.88 1320.9V1241.06h2V1320.9zM1613 1320.9V1226.63h2V1320.9zM1614.12 1320.9V1255.48h2V1320.9zM1615.25 1320.9V1284.34h2V1320.9zM1616.37 1320.9V1255.48h2V1320.9zM1617.49 1320.9V1269.91h2V1320.9zM1618.61 1320.9V1277.12h2V1320.9zM1619.73 1320.9V1226.63h2V1320.9zM1620.86 1320.9V1233.85h2V1320.9zM1621.98 1320.9V1233.85h2V1320.9zM1623.1 1320.9V1190.57h2V1320.9zM1624.22 1320.9V1212.21h2V1320.9zM1625.34 1320.9V1248.27h2V1320.9zM1626.47 1320.9V1226.63h2V1320.9zM1627.59 1320.9V1204.99h2V1320.9zM1628.71 1320.9V1277.12h2V1320.9zM1629.83 1320.9V1204.99h2V1320.9zM1630.95 1320.9V1269.91h2V1320.9zM1632.07 1320.9V1226.63h2V1320.9zM1633.2 1320.9V1176.14h2V1320.9zM1634.32 1320.9V1277.12h2V1320.9zM1635.44 1320.9V1255.48h2V1320.9zM1636.56 1320.9V1204.99h2V1320.9zM1637.68 1320.9V1212.21h2V1320.9zM1638.81 1320.9V1277.12h2V1320.9zM1639.93 1320.9V1212.21h2V1320.9zM1641.05 1320.9V1089.59h2V1320.9zM1642.17 1320.9V1082.38h2V1320.9zM1643.29 1320.9V1255.48h2V1320.9zM1644.42 1320.9V1269.91h2V1320.9zM1645.54 1320.9V1248.27h2V1320.9zM1646.66 1320.9V1219.42h2V1320.9zM1647.78 1320.9V1284.34h2V1320.9zM1648.9 1320.9V1255.48h2V1320.9zM1650.03 1320.9V1269.91h2V1320.9zM1651.15 1320.9V1255.48h2V1320.9zM1652.27 1320.9V1212.21h2V1320.9zM1653.39 1320.9V1176.14h2V1320.9zM1654.51 1320.9V1147.29h2V1320.9zM1655.64 1320.9V1226.63h2V1320.9zM1656.76 1320.9V1226.63h2V1320.9zM1657.88 1320.9V1241.06h2V1320.9zM1659 1320.9V1255.48h2V1320.9zM1660.12 1320.9V1241.06h2V1320.9zM1661.24 1320.9V1190.57h2V1320.9zM1662.37 1320.9V1269.91h2V1320.9zM1663.49 1320.9V1241.06h2V1320.9zM1664.61 1320.9V1269.91h2V1320.9zM1665.73 1320.9V1277.12h2V1320.9zM1666.85 1320.9V1219.42h2V1320.9zM1667.98 1320.9V1226.63h2V1320.9zM1669.1 1320.9V1241.06h2V1320.9zM1670.22 1320.9V1277.12h2V1320.9zM1671.34 1320.9V1219.42h2V1320.9zM1672.46 1320.9V1255.48h2V1320.9zM1673.59 1320.9V1284.34h2V1320.9zM1674.71 1320.9V1219.42h2V1320.9z" fill="#249170"/>
<path d="M1675.83 1320.9V1284.34h2V1320.9zM1676.95 1320.9V1226.63h2V1320.9zM1678.07 1320.9V1161.72h2V1320.9zM1679.2 1320.9V1291.55h2V1320.9zM1680.32 1320.9V1298.76h2V1320.9zM1681.44 1320.9V1197.78h2V1320.9zM1682.56 1320.9V1241.06h2V1320.9zM1683.68 1320.9V1262.7h2V1320.9zM1684.81 1320.9V1219.42h2V1320.9zM1685.93 1320.9V1248.27h2V1320.9zM1687.05 1320.9V1291.55h2V1320.9zM1688.17 1320.9V1241.06h2V1320.9zM1689.29 1320.9V1226.63h2V1320.9zM1690.41 1320.9V1291.55h2V1320.9zM1691.54 1320.9V1226.63h2V1320.9zM1692.66 1320.9V1197.78h2V1320.9zM1693.78 1320.9V1226.63h2V1320.9zM1694.9 1320.9V1204.99h2V1320.9zM1696.02 1320.9V1219.42h2V1320.9zM1697.15 1320.9V1291.55h2V1320.9zM1698.27 1320.9V1176.14h2V1320.9zM1699.39 1320.9V1197.78h2V1320.9zM1700.51 1320.9V1291.55h2V1320.9zM1701.63 1320.9V1255.48h2V1320.9zM1702.76 1320.9V1291.55h2V1320.9zM1703.88 1320.9V1204.99h2V1320.9zM1705 1320.9V1219.42h2V1320.9zM1706.12 1320.9V1233.85h2V1320.9zM1707.24 1320.9V1226.63h2V1320.9zM1708.37 1320.9V1226.63h2V1320.9zM1709.49 1320.9V1226.63h2V1320.9zM1710.61 1320.9V1168.93h2V1320.9zM1711.73 1320.9V1190.57h2V1320.9zM1712.85 1320.9V1226.63h2V1320.9zM1713.98 1320.9V1248.27h2V1320.9zM1715.1 1320.9V1219.42h2V1320.9zM1716.22 1320.9V1190.57h2V1320.9zM1717.34 1320.9V1226.63h2V1320.9zM1718.46 1320.9V1233.85h2V1320.9zM1719.58 1320.9V1241.06h2V1320.9zM1720.71 1320.9V1291.55h2V1320.9zM1721.83 1320.9V1204.99h2V1320.9zM1722.95 1320.9V1233.85h2V1320.9zM1724.07 1320.9V1226.63h2V1320.9zM1725.19 1320.9V1190.57h2V1320.9zM1726.32 1320.9V1219.42h2V1320.9zM1727.44 1320.9V1168.93h2V1320.9zM1728.56 1320.9V1226.63h2V1320.9zM1729.68 1320.9V1176.14h2V1320.9zM1730.8 1320.9V1197.78h2V1320.9zM1731.93 1320.9V1284.34h2V1320.9zM1733.05 1320.9V1226.63h2V1320.9zM1734.17 1320.9V1219.42h2V1320.9zM1735.29 1320.9V1226.63h2V1320.9zM1736.41 1320.9V1226.63h2V1320.9zM1737.54 1320.9V1233.85h2V1320.9zM1738.66 1320.9V1284.34h2V1320.9zM1739.78 1320.9V1241.06h2V1320.9zM1740.9 1320.9V1168.93h2V1320.9zM1742.02 1320.9V1219.42h2V1320.9zM1743.15 1320.9V1291.55h2V1320.9zM1744.27 1320.9V1291.55h2V1320.9zM1745.39 1320.9V1255.48h2V1320.9zM1746.51 1320.9V1269.91h2V1320.9zM1747.63 1320.9V1197.78h2V1320.9zM1748.75 1320.9V1204.99h2V1320.9zM1749.88 1320.9V1176.14h2V1320.9zM1751 1320.9V1190.57h2V1320.9zM1752.12 1320.9V1277.12h2V1320.9zM1753.24 1320.9V1219.42h2V1320.9zM1754.36 1320.9V1248.27h2V1320.9zM1755.49 1320.9V1190.57h2V1320.9zM1756.61 1320.9V1219.42h2V1320.9zM1757.73 1320.9V1168.93h2V1320.9zM1758.85 1320.9V1284.34h2V1320.9zM1759.97 1320.9V1197.78h2V1320.9zM1761.1 1320.9V1190.57h2V1320.9zM1762.22 1320.9V1168.93h2V1320.9zM1763.34 1320.9V1219.42h2V1320.9zM1764.46 1320.9V1291.55h2V1320.9zM1765.58 1320.9V1284.34h2V1320.9zM1766.71 1320.9V1161.72h2V1320.9zM1767.83 1320.9V1277.12h2V1320.9zM1768.95 1320.9V1269.91h2V1320.9zM1770.07 1320.9V1284.34h2V1320.9zM1771.19 1320.9V1183.36h2V1320.9zM1772.32 1320.9V1233.85h2V1320.9zM1773.44 1320.9V1291.55h2V1320.9zM1774.56 1320.9V1161.72h2V1320.9zM1775.68 1320.9V1277.12h2V1320.9zM1776.8 1320.9V1248.27h2V1320.9zM1777.92 1320.9V1226.63h2V1320.9zM1779.05 1320.9V1291.55h2V1320.9zM1780.17 1320.9V1269.91h2V1320.9zM1781.29 1320.9V1233.85h2V1320.9zM1782.41 1320.9V1262.7h2V1320.9zM1783.53 1320.9V1269.91h2V1320.9zM1784.66 1320.9V1291.55h2V1320.9zM1785.78 1320.9V1219.42h2V1320.9zM1786.9 1320.9V1241.06h2V1320.9zM1788.02 1320.9V1241.06h2V1320.9zM1789.14 1320.9V1197.78h2V1320.9zM1790.27 1320.9V1291.55h2V1320.9zM1791.39 1320.9V1255.48h2V1320.9zM1792.51 1320.9V1168.93h2V1320.9zM1793.63 1320.9V1190.57h2V1320.9zM1794.75 1320.9V1284.34h2V1320.9zM1795.88 1320.9V1291.55h2V1320.9zM1797 1320.9V1291.55h2V1320.9zM1798.12 1320.9V1255.48h2V1320.9zM1799.24 1320.9V1241.06h2V1320.9zM1800.36 1320.9V1284.34h2V1320.9zM1801.49 1320.9V1212.21h2V1320.9zM1802.61 1320.9V1233.85h2V1320.9zM1803.73 1320.9V1284.34h2V1320.9zM1804.85 1320.9V1291.55h2V1320.9zM1805.97 1320.9V1219.42h2V1320.9zM1807.09 1320.9V1248.27h2V1320.9zM1808.22 1320.9V1291.55h2V1320.9zM1809.34 1320.9V1226.63h2V1320.9zM1810.46 1320.9V1226.63h2V1320.9zM1811.58 1320.9V1269.91h2V1320.9zM1812.7 1320.9V1176.14h2V1320.9zM1813.83 1320.9V1233.85h2V1320.9zM1814.95 1320.9V1255.48h2V1320.9zM1816.07 1320.9V1248.27h2V1320.9zM1817.19 1320.9V1226.63h2V1320.9zM1818.31 1320.9V1248.27h2V1320.9zM1819.44 1320.9V1284.34h2V1320.9zM1820.56 1320.9V1183.36h2V1320.9zM1821.68 1320.9V1219.42h2V1320.9zM1822.8 1320.9V1219.42h2V1320.9zM1823.92 1320.9V1284.34h2V1320.9zM1825.05 1320.9V1291.55h2V1320.9zM1826.17 1320.9V1204.99h2V1320.9zM1827.29 1320.9V1226.63h2V1320.9zM1828.41 1320.9V1219.42h2V1320.9zM1829.53 1320.9V1291.55h2V1320.9zM1830.66 1320.9V1248.27h2V1320.9zM1831.78 1320.9V1161.72h2V1320.9zM1832.9 1320.9V1219.42h2V1320.9zM1834.02 1320.9V1212.21h2V1320.9zM1835.14 1320.9V1291.55h2V1320.9zM1836.26 1320.9V1291.55h2V1320.9zM1837.39 1320.9V1219.42h2V1320.9zM1838.51 1320.9V1219.42h2V1320.9zM1839.63 1320.9V1183.36h2V1320.9zM1840.75 1320.9V1183.36h2V1320.9zM1841.87 1320.9V1204.99h2V1320.9zM1843 1320.9V1255.48h2V1320.9zM1844.12 1320.9V1219.42h2V1320.9zM1845.24 1320.9V1291.55h2V1320.9zM1846.36 1320.9V1241.06h2V1320.9zM1847.48 1320.9V1176.14h2V1320.9zM1848.61 1320.9V1291.55h2V1320.9zM1849.73 1320.9V1190.57h2V1320.9z" fill="#a0ecc4"/>
<path d="M1850.85 1320.9V1204.99h2V1320.9zM1851.97 1320.9V1197.78h2V1320.9zM1853.09 1320.9V1204.99h2V1320.9zM1854.22 1320.9V1197.78h2V1320.9zM1855.34 1320.9V1212.21h2V1320.9zM1856.46 1320.9V1190.57h2V1320.9zM1857.58 1320.9V1204.99h2V1320.9zM1858.7 1320.9V1176.14h2V1320.9zM1859.83 1320.9V1190.57h2V1320.9zM1860.95 1320.9V1197.78h2V1320.9zM1862.07 1320.9V1219.42h2V1320.9zM1863.19 1320.9V1212.21h2V1320.9zM1864.31 1320.9V1212.21h2V1320.9zM1865.44 1320.9V1197.78h2V1320.9zM1866.56 1320.9V1190.57h2V1320.9zM1867.68 1320.9V1262.7h2V1320.9zM1868.8 1320.9V1226.63h2V1320.9zM1869.92 1320.9V1262.7h2V1320.9zM1871.04 1320.9V1219.42h2V1320.9zM1872.17 1320.9V1104.01h2V1320.9zM1873.29 1320.9V1255.48h2V1320.9zM1874.41 1320.9V1197.78h2V1320.9zM1875.53 1320.9V1060.74h2V1320.9zM1876.65 1320.9V1255.48h2V1320.9zM1877.78 1320.9V1140.08h2V1320.9zM1878.9 1320.9V1233.85h2V1320.9zM1880.02 1320.9V1161.72h2V1320.9zM1881.14 1320.9V1226.63h2V1320.9zM1882.26 1320.9V1197.78h2V1320.9zM1883.39 1320.9V1284.34h2V1320.9zM1884.51 1320.9V1277.12h2V1320.9zM1885.63 1320.9V1204.99h2V1320.9zM1886.75 1320.9V1226.63h2V1320.9zM1887.87 1320.9V1147.29h2V1320.9zM1889 1320.9V1197.78h2V1320.9zM1890.12 1320.9V1226.63h2V1320.9zM1891.24 1320.9V1284.34h2V1320.9zM1892.36 1320.9V1277.12h2V1320.9zM1893.48 1320.9V1269.91h2V1320.9zM1894.61 1320.9V1269.91h2V1320.9zM1895.73 1320.9V1003.03h2V1320.9zM1896.85 1320.9V966.97h2V1320.9zM1897.97 1320.9V1010.25h2V1320.9zM1899.09 1320.9V1226.63h2V1320.9zM1900.21 1320.9V1269.91h2V1320.9zM1901.34 1320.9V1219.42h2V1320.9zM1902.46 1320.9V1277.12h2V1320.9zM1903.58 1320.9V1197.78h2V1320.9zM1904.7 1320.9V1291.55h2V1320.9zM1905.82 1320.9V1284.34h2V1320.9zM1906.95 1320.9V1212.21h2V1320.9zM1908.07 1320.9V1277.12h2V1320.9zM1909.19 1320.9V1277.12h2V1320.9zM1910.31 1320.9V1248.27h2V1320.9zM1911.43 1320.9V1262.7h2V1320.9zM1912.56 1320.9V1284.34h2V1320.9zM1913.68 1320.9V1277.12h2V1320.9zM1914.8 1320.9V1269.91h2V1320.9zM1915.92 1320.9V1277.12h2V1320.9zM1917.04 1320.9V1176.14h2V1320.9zM1918.17 1320.9V1046.31h2V1320.9zM1919.29 1320.9V887.63h2V1320.9zM1920.41 1320.9V952.54h2V1320.9zM1921.53 1320.9V1060.74h2V1320.9zM1922.65 1320.9V1262.7h2V1320.9zM1923.78 1320.9V1269.91h2V1320.9zM1924.9 1320.9V1262.7h2V1320.9zM1926.02 1320.9V1277.12h2V1320.9zM1927.14 1320.9V1204.99h2V1320.9zM1928.26 1320.9V1046.31h2V1320.9zM1929.38 1320.9V1089.59h2V1320.9zM1930.51 1320.9V1104.01h2V1320.9zM1931.63 1320.9V1241.06h2V1320.9zM1932.75 1320.9V1291.55h2V1320.9zM1933.87 1320.9V1291.55h2V1320.9zM1934.99 1320.9V1284.34h2V1320.9zM1936.12 1320.9V1277.12h2V1320.9zM1937.24 1320.9V1284.34h2V1320.9zM1938.36 1320.9V1255.48h2V1320.9zM1939.48 1320.9V1277.12h2V1320.9zM1940.6 1320.9V1284.34h2V1320.9zM1941.73 1320.9V1262.7h2V1320.9zM1942.85 1320.9V1262.7h2V1320.9zM1943.97 1320.9V1284.34h2V1320.9zM1945.09 1320.9V1262.7h2V1320.9zM1946.21 1320.9V1262.7h2V1320.9zM1947.34 1320.9V1125.65h2V1320.9zM1948.46 1320.9V1003.03h2V1320.9zM1949.58 1320.9V1024.67h2V1320.9zM1950.7 1320.9V1147.29h2V1320.9zM1951.82 1320.9V1262.7h2V1320.9zM1952.95 1320.9V1233.85h2V1320.9zM1954.07 1320.9V1255.48h2V1320.9zM1955.19 1320.9V1255.48h2V1320.9zM1956.31 1320.9V1291.55h2V1320.9zM1957.43 1320.9V1262.7h2V1320.9zM1958.55 1320.9V1277.12h2V1320.9zM1959.68 1320.9V1291.55h2V1320.9zM1960.8 1320.9V1233.85h2V1320.9zM1961.92 1320.9V1248.27h2V1320.9zM1963.04 1320.9V1241.06h2V1320.9zM1964.16 1320.9V1284.34h2V1320.9zM1965.29 1320.9V1082.38h2V1320.9zM1966.41 1320.9V1132.87h2V1320.9zM1967.53 1320.9V1233.85h2V1320.9zM1968.65 1320.9V1262.7h2V1320.9zM1969.77 1320.9V1269.91h2V1320.9zM1970.9 1320.9V1241.06h2V1320.9zM1972.02 1320.9V1277.12h2V1320.9zM1973.14 1320.9V1039.1h2V1320.9zM1974.26 1320.9V1104.01h2V1320.9zM1975.38 1320.9V1277.12h2V1320.9zM1976.51 1320.9V1226.63h2V1320.9zM1977.63 1320.9V1255.48h2V1320.9zM1978.75 1320.9V1233.85h2V1320.9zM1979.87 1320.9V1277.12h2V1320.9zM1980.99 1320.9V1233.85h2V1320.9zM1982.12 1320.9V1262.7h2V1320.9zM1983.24 1320.9V1298.76h2V1320.9zM1984.36 1320.9V1298.76h2V1320.9zM1985.48 1320.9V1298.76h2V1320.9zM1986.6 1320.9V1298.76h2V1320.9zM1987.72 1320.9V1298.76h2V1320.9zM1988.85 1320.9V1298.76h2V1320.9zM1989.97 1320.9V1298.76h2V1320.9zM1991.09 1320.9V1298.76h2V1320.9zM1992.21 1320.9V1298.76h2V1320.9zM1993.33 1320.9V1298.76h2V1320.9zM1994.46 1320.9V1291.55h2V1320.9zM1995.58 1320.9V1298.76h2V1320.9zM1996.7 1320.9V1291.55h2V1320.9zM1997.82 1320.9V1298.76h2V1320.9z" fill="#249170"/>
<path d="M1998.94 1320.9V1291.55h2V1320.9zM2000.07 1320.9V1305.97h2V1320.9zM2001.19 1320.9V1298.76h2V1320.9zM2002.31 1320.9V1305.97h2V1320.9zM2003.43 1320.9V1298.76h2V1320.9zM2004.55 1320.9V1298.76h2V1320.9zM2005.68 1320.9V1277.12h2V1320.9zM2006.8 1320.9V1305.97h2V1320.9zM2007.92 1320.9V1298.76h2V1320.9zM2009.04 1320.9V1291.55h2V1320.9zM2010.16 1320.9V1269.91h2V1320.9zM2011.29 1320.9V1291.55h2V1320.9zM2012.41 1320.9V1262.7h2V1320.9zM2013.53 1320.9V1298.76h2V1320.9zM2014.65 1320.9V1284.34h2V1320.9zM2015.77 1320.9V1262.7h2V1320.9zM2016.89 1320.9V1262.7h2V1320.9zM2018.02 1320.9V1262.7h2V1320.9zM2019.14 1320.9V1241.06h2V1320.9zM2020.26 1320.9V1298.76h2V1320.9zM2021.38 1320.9V1262.7h2V1320.9zM2022.5 1320.9V1291.55h2V1320.9zM2023.63 1320.9V1226.63h2V1320.9zM2024.75 1320.9V1233.85h2V1320.9zM2025.87 1320.9V1298.76h2V1320.9zM2026.99 1320.9V1248.27h2V1320.9zM2028.11 1320.9V1298.76h2V1320.9zM2029.24 1320.9V1248.27h2V1320.9zM2030.36 1320.9V1262.7h2V1320.9zM2031.48 1320.9V1298.76h2V1320.9zM2032.6 1320.9V1277.12h2V1320.9zM2033.72 1320.9V1255.48h2V1320.9zM2034.85 1320.9V1269.91h2V1320.9zM2035.97 1320.9V1226.63h2V1320.9zM2037.09 1320.9V1269.91h2V1320.9zM2038.21 1320.9V1298.76h2V1320.9zM2039.33 1320.9V1262.7h2V1320.9zM2040.46 1320.9V1298.76h2V1320.9zM2041.58 1320.9V1219.42h2V1320.9zM2042.7 1320.9V1262.7h2V1320.9zM2043.82 1320.9V1298.76h2V1320.9zM2044.94 1320.9V1298.76h2V1320.9zM2046.06 1320.9V1197.78h2V1320.9zM2047.19 1320.9V1241.06h2V1320.9zM2048.31 1320.9V1284.34h2V1320.9zM2049.43 1320.9V1241.06h2V1320.9zM2050.55 1320.9V1291.55h2V1320.9zM2051.67 1320.9V1219.42h2V1320.9zM2052.8 1320.9V1168.93h2V1320.9zM2053.92 1320.9V1219.42h2V1320.9zM2055.04 1320.9V1226.63h2V1320.9zM2056.16 1320.9V1219.42h2V1320.9zM2057.28 1320.9V1226.63h2V1320.9zM2058.41 1320.9V1168.93h2V1320.9zM2059.53 1320.9V1219.42h2V1320.9zM2060.65 1320.9V1212.21h2V1320.9zM2061.77 1320.9V1291.55h2V1320.9zM2062.89 1320.9V1291.55h2V1320.9zM2064.02 1320.9V1226.63h2V1320.9zM2065.14 1320.9V1219.42h2V1320.9zM2066.26 1320.9V1226.63h2V1320.9zM2067.38 1320.9V1291.55h2V1320.9zM2068.5 1320.9V1291.55h2V1320.9zM2069.63 1320.9V1219.42h2V1320.9zM2070.75 1320.9V1197.78h2V1320.9zM2071.87 1320.9V1233.85h2V1320.9zM2072.99 1320.9V1183.36h2V1320.9zM2074.11 1320.9V1183.36h2V1320.9zM2075.23 1320.9V1262.7h2V1320.9zM2076.36 1320.9V1204.99h2V1320.9zM2077.48 1320.9V1219.42h2V1320.9zM2078.6 1320.9V1226.63h2V1320.9zM2079.72 1320.9V1219.42h2V1320.9zM2080.84 1320.9V1204.99h2V1320.9zM2081.97 1320.9V1284.34h2V1320.9zM2083.09 1320.9V1269.91h2V1320.9zM2084.21 1320.9V1248.27h2V1320.9zM2085.33 1320.9V1176.14h2V1320.9zM2086.45 1320.9V1284.34h2V1320.9zM2087.58 1320.9V1204.99h2V1320.9zM2088.7 1320.9V1233.85h2V1320.9zM2089.82 1320.9V1277.12h2V1320.9zM2090.94 1320.9V1219.42h2V1320.9zM2092.06 1320.9V1161.72h2V1320.9zM2093.19 1320.9V1269.91h2V1320.9zM2094.31 1320.9V1176.14h2V1320.9zM2095.43 1320.9V1226.63h2V1320.9zM2096.55 1320.9V1233.85h2V1320.9zM2097.67 1320.9V1176.14h2V1320.9zM2098.8 1320.9V1255.48h2V1320.9zM2099.92 1320.9V1284.34h2V1320.9zM2101.04 1320.9V1277.12h2V1320.9zM2102.16 1320.9V1248.27h2V1320.9zM2103.28 1320.9V1255.48h2V1320.9zM2104.4 1320.9V1154.5h2V1320.9zM2105.53 1320.9V1219.42h2V1320.9zM2106.65 1320.9V1219.42h2V1320.9zM2107.77 1320.9V1204.99h2V1320.9zM2108.89 1320.9V1183.36h2V1320.9zM2110.01 1320.9V1212.21h2V1320.9zM2111.14 1320.9V1183.36h2V1320.9zM2112.26 1320.9V1190.57h2V1320.9zM2113.38 1320.9V1219.42h2V1320.9zM2114.5 1320.9V1241.06h2V1320.9zM2115.62 1320.9V1168.93h2V1320.9zM2116.75 1320.9V1284.34h2V1320.9zM2117.87 1320.9V1284.34h2V1320.9zM2118.99 1320.9V1233.85h2V1320.9zM2120.11 1320.9V1291.55h2V1320.9zM2121.23 1320.9V1248.27h2V1320.9zM2122.36 1320.9V1183.36h2V1320.9zM2123.48 1320.9V1204.99h2V1320.9zM2124.6 1320.9V1212.21h2V1320.9zM2125.72 1320.9V1197.78h2V1320.9zM2126.84 1320.9V1212.21h2V1320.9zM2127.97 1320.9V1219.42h2V1320.9zM2129.09 1320.9V1168.93h2V1320.9zM2130.21 1320.9V1212.21h2V1320.9zM2131.33 1320.9V1219.42h2V1320.9zM2132.45 1320.9V1190.57h2V1320.9zM2133.58 1320.9V1183.36h2V1320.9zM2134.7 1320.9V1241.06h2V1320.9zM2135.82 1320.9V1176.14h2V1320.9zM2136.94 1320.9V1219.42h2V1320.9zM2138.06 1320.9V1291.55h2V1320.9zM2139.18 1320.9V1284.34h2V1320.9zM2140.31 1320.9V1233.85h2V1320.9zM2141.43 1320.9V1291.55h2V1320.9zM2142.55 1320.9V1190.57h2V1320.9zM2143.67 1320.9V1204.99h2V1320.9zM2144.79 1320.9V1219.42h2V1320.9zM2145.92 1320.9V1226.63h2V1320.9zM2147.04 1320.9V1161.72h2V1320.9zM2148.16 1320.9V1248.27h2V1320.9zM2149.28 1320.9V1212.21h2V1320.9zM2150.4 1320.9V1262.7h2V1320.9zM2151.53 1320.9V1219.42h2V1320.9zM2152.65 1320.9V1212.21h2V1320.9zM2153.77 1320.9V1226.63h2V1320.9zM2154.89 1320.9V1204.99h2V1320.9zM2156.01 1320.9V1154.5h2V1320.9zM2157.14 1320.9V1168.93h2V1320.9zM2158.26 1320.9V1212.21h2V1320.9zM2159.38 1320.9V1226.63h2V1320.9zM2160.5 1320.9V1269.91h2V1320.9zM2161.62 1320.9V1277.12h2V1320.9zM2162.75 1320.9V1212.21h2V1320.9zM2163.87 1320.9V1241.06h2V1320.9zM2164.99 1320.9V1226.63h2V1320.9zM2166.11 1320.9V1212.21h2V1320.9zM2167.23 1320.9V1284.34h2V1320.9zM2168.35 1320.9V1277.12h2V1320.9zM2169.48 1320.9V1291.55h2V1320.9zM2170.6 1320.9V1262.7h2V1320.9zM2171.72 1320.9V1226.63h2V1320.9zM2172.84 1320.9V1161.72h2V1320.9z" fill="#a0ecc4"/>
<path d="M2173.96 1320.9V1241.06h2V1320.9zM2175.09 1320.9V1212.21h2V1320.9zM2176.21 1320.9V1219.42h2V1320.9zM2177.33 1320.9V1262.7h2V1320.9zM2178.45 1320.9V1226.63h2V1320.9zM2179.57 1320.9V1284.34h2V1320.9zM2180.7 1320.9V1277.12h2V1320.9zM2181.82 1320.9V1176.14h2V1320.9zM2182.94 1320.9V1219.42h2V1320.9zM2184.06 1320.9V1197.78h2V1320.9zM2185.18 1320.9V1161.72h2V1320.9zM2186.31 1320.9V1226.63h2V1320.9zM2187.43 1320.9V1219.42h2V1320.9zM2188.55 1320.9V1161.72h2V1320.9zM2189.67 1320.9V1197.78h2V1320.9zM2190.79 1320.9V1190.57h2V1320.9zM2191.92 1320.9V1089.59h2V1320.9zM2193.04 1320.9V1161.72h2V1320.9zM2194.16 1320.9V1226.63h2V1320.9zM2195.28 1320.9V1176.14h2V1320.9zM2196.4 1320.9V1104.01h2V1320.9zM2197.52 1320.9V1075.16h2V1320.9zM2198.65 1320.9V938.12h2V1320.9zM2199.77 1320.9V1003.03h2V1320.9zM2200.89 1320.9V1161.72h2V1320.9zM2202.01 1320.9V1154.5h2V1320.9zM2203.13 1320.9V1132.87h2V1320.9zM2204.26 1320.9V938.12h2V1320.9zM2205.38 1320.9V1197.78h2V1320.9zM2206.5 1320.9V1190.57h2V1320.9zM2207.62 1320.9V1248.27h2V1320.9zM2208.74 1320.9V1176.14h2V1320.9zM2209.87 1320.9V1147.29h2V1320.9zM2210.99 1320.9V1053.52h2V1320.9zM2212.11 1320.9V1233.85h2V1320.9zM2213.23 1320.9V1197.78h2V1320.9zM2214.35 1320.9V1262.7h2V1320.9zM2215.48 1320.9V1212.21h2V1320.9zM2216.6 1320.9V1168.93h2V1320.9zM2217.72 1320.9V1147.29h2V1320.9zM2218.84 1320.9V1190.57h2V1320.9zM2219.96 1320.9V1147.29h2V1320.9zM2221.09 1320.9V1161.72h2V1320.9zM2222.21 1320.9V1190.57h2V1320.9zM2223.33 1320.9V1183.36h2V1320.9zM2224.45 1320.9V1161.72h2V1320.9zM2225.57 1320.9V1190.57h2V1320.9zM2226.69 1320.9V1204.99h2V1320.9zM2227.82 1320.9V1010.25h2V1320.9zM2228.94 1320.9V1003.03h2V1320.9zM2230.06 1320.9V966.97h2V1320.9zM2231.18 1320.9V1176.14h2V1320.9zM2232.3 1320.9V1269.91h2V1320.9zM2233.43 1320.9V1219.42h2V1320.9zM2234.55 1320.9V1154.5h2V1320.9zM2235.67 1320.9V1212.21h2V1320.9zM2236.79 1320.9V1248.27h2V1320.9zM2237.91 1320.9V1255.48h2V1320.9zM2239.04 1320.9V1248.27h2V1320.9zM2240.16 1320.9V1255.48h2V1320.9zM2241.28 1320.9V1010.25h2V1320.9zM2242.4 1320.9V1132.87h2V1320.9zM2243.52 1320.9V1269.91h2V1320.9zM2244.65 1320.9V1226.63h2V1320.9zM2245.77 1320.9V1269.91h2V1320.9zM2246.89 1320.9V1197.78h2V1320.9zM2248.01 1320.9V1183.36h2V1320.9zM2249.13 1320.9V1190.57h2V1320.9zM2250.26 1320.9V1277.12h2V1320.9zM2251.38 1320.9V1204.99h2V1320.9zM2252.5 1320.9V1168.93h2V1320.9zM2253.62 1320.9V1168.93h2V1320.9zM2254.74 1320.9V1212.21h2V1320.9zM2255.86 1320.9V1233.85h2V1320.9zM2256.99 1320.9V1190.57h2V1320.9zM2258.11 1320.9V1190.57h2V1320.9zM2259.23 1320.9V1226.63h2V1320.9zM2260.35 1320.9V1197.78h2V1320.9zM2261.47 1320.9V1190.57h2V1320.9zM2262.6 1320.9V1176.14h2V1320.9zM2263.72 1320.9V1262.7h2V1320.9zM2264.84 1320.9V1277.12h2V1320.9zM2265.96 1320.9V1277.12h2V1320.9zM2267.08 1320.9V1219.42h2V1320.9zM2268.21 1320.9V1262.7h2V1320.9zM2269.33 1320.9V1212.21h2V1320.9zM2270.45 1320.9V1197.78h2V1320.9zM2271.57 1320.9V1262.7h2V1320.9zM2272.69 1320.9V966.97h2V1320.9zM2273.82 1320.9V1204.99h2V1320.9zM2274.94 1320.9V1277.12h2V1320.9zM2276.06 1320.9V1262.7h2V1320.9zM2277.18 1320.9V1277.12h2V1320.9zM2278.3 1320.9V1219.42h2V1320.9zM2279.43 1320.9V1039.1h2V1320.9zM2280.55 1320.9V1118.44h2V1320.9zM2281.67 1320.9V1277.12h2V1320.9zM2282.79 1320.9V1277.12h2V1320.9zM2283.91 1320.9V1277.12h2V1320.9zM2285.03 1320.9V1262.7h2V1320.9zM2286.16 1320.9V1262.7h2V1320.9zM2287.28 1320.9V1197.78h2V1320.9zM2288.4 1320.9V1154.5h2V1320.9zM2289.52 1320.9V1176.14h2V1320.9zM2290.64 1320.9V1212.21h2V1320.9zM2291.77 1320.9V1284.34h2V1320.9zM2292.89 1320.9V1284.34h2V1320.9zM2294.01 1320.9V1255.48h2V1320.9zM2295.13 1320.9V1277.12h2V1320.9zM2296.25 1320.9V1277.12h2V1320.9zM2297.38 1320.9V1212.21h2V1320.9zM2298.5 1320.9V1248.27h2V1320.9zM2299.62 1320.9V1291.55h2V1320.9zM2300.74 1320.9V1277.12h2V1320.9zM2301.86 1320.9V1277.12h2V1320.9zM2302.99 1320.9V1226.63h2V1320.9zM2304.11 1320.9V1212.21h2V1320.9zM2305.23 1320.9V1226.63h2V1320.9zM2306.35 1320.9V1168.93h2V1320.9zM2307.47 1320.9V1212.21h2V1320.9zM2308.6 1320.9V1284.34h2V1320.9zM2309.72 1320.9V1284.34h2V1320.9zM2310.84 1320.9V1269.91h2V1320.9zM2311.96 1320.9V1277.12h2V1320.9zM2313.08 1320.9V1284.34h2V1320.9zM2314.2 1320.9V1226.63h2V1320.9zM2315.33 1320.9V1219.42h2V1320.9zM2316.45 1320.9V1284.34h2V1320.9zM2317.57 1320.9V1284.34h2V1320.9zM2318.69 1320.9V1284.34h2V1320.9zM2319.81 1320.9V1291.55h2V1320.9zM2320.94 1320.9V1284.34h2V1320.9z" fill="#249170"/>
<path d="M2322.06 1320.9V1291.55h2V1320.9zM2323.18 1320.9V1183.36h2V1320.9zM2324.3 1320.9V1241.06h2V1320.9zM2325.42 1320.9V1291.55h2V1320.9zM2326.55 1320.9V1305.97h2V1320.9zM2327.67 1320.9V1298.76h2V1320.9zM2328.79 1320.9V1298.76h2V1320.9zM2329.91 1320.9V1298.76h2V1320.9zM2331.03 1320.9V1262.7h2V1320.9zM2332.16 1320.9V1226.63h2V1320.9zM2333.28 1320.9V1212.21h2V1320.9zM2334.4 1320.9V1291.55h2V1320.9zM2335.52 1320.9V1291.55h2V1320.9zM2336.64 1320.9V1248.27h2V1320.9zM2337.77 1320.9V1284.34h2V1320.9zM2338.89 1320.9V1277.12h2V1320.9zM2340.01 1320.9V1226.63h2V1320.9zM2341.13 1320.9V1219.42h2V1320.9zM2342.25 1320.9V1248.27h2V1320.9zM2343.37 1320.9V1190.57h2V1320.9zM2344.5 1320.9V1277.12h2V1320.9zM2345.62 1320.9V1291.55h2V1320.9zM2346.74 1320.9V1284.34h2V1320.9zM2347.86 1320.9V1262.7h2V1320.9zM2348.98 1320.9V1255.48h2V1320.9zM2350.11 1320.9V1212.21h2V1320.9zM2351.23 1320.9V1204.99h2V1320.9zM2352.35 1320.9V1183.36h2V1320.9zM2353.47 1320.9V1219.42h2V1320.9zM2354.59 1320.9V1233.85h2V1320.9zM2355.72 1320.9V1219.42h2V1320.9zM2356.84 1320.9V1212.21h2V1320.9zM2357.96 1320.9V1197.78h2V1320.9zM2359.08 1320.9V1233.85h2V1320.9zM2360.2 1320.9V1255.48h2V1320.9zM2361.33 1320.9V1255.48h2V1320.9zM2362.45 1320.9V1284.34h2V1320.9zM2363.57 1320.9V1284.34h2V1320.9zM2364.69 1320.9V1277.12h2V1320.9zM2365.81 1320.9V1161.72h2V1320.9zM2366.94 1320.9V1212.21h2V1320.9zM2368.06 1320.9V1277.12h2V1320.9zM2369.18 1320.9V1277.12h2V1320.9zM2370.3 1320.9V1255.48h2V1320.9zM2371.42 1320.9V1212.21h2V1320.9zM2372.54 1320.9V1190.57h2V1320.9zM2373.67 1320.9V1140.08h2V1320.9zM2374.79 1320.9V1255.48h2V1320.9zM2375.91 1320.9V1284.34h2V1320.9zM2377.03 1320.9V1277.12h2V1320.9zM2378.15 1320.9V1255.48h2V1320.9zM2379.28 1320.9V1197.78h2V1320.9zM2380.4 1320.9V1226.63h2V1320.9zM2381.52 1320.9V1284.34h2V1320.9zM2382.64 1320.9V1284.34h2V1320.9zM2383.76 1320.9V1241.06h2V1320.9zM2384.89 1320.9V1241.06h2V1320.9zM2386.01 1320.9V1212.21h2V1320.9zM2387.13 1320.9V1248.27h2V1320.9zM2388.25 1320.9V1241.06h2V1320.9zM2389.37 1320.9V1277.12h2V1320.9zM2390.5 1320.9V1284.34h2V1320.9zM2391.62 1320.9V1183.36h2V1320.9zM2392.74 1320.9V1212.21h2V1320.9zM2393.86 1320.9V1212.21h2V1320.9zM2394.98 1320.9V1233.85h2V1320.9zM2396.11 1320.9V1183.36h2V1320.9zM2397.23 1320.9V1197.78h2V1320.9zM2398.35 1320.9V1212.21h2V1320.9zM2399.47 1320.9V1176.14h2V1320.9zM2400.59 1320.9V1176.14h2V1320.9zM2401.71 1320.9V1204.99h2V1320.9zM2402.84 1320.9V1212.21h2V1320.9zM2403.96 1320.9V1269.91h2V1320.9zM2405.08 1320.9V1277.12h2V1320.9zM2406.2 1320.9V1219.42h2V1320.9zM2407.32 1320.9V1176.14h2V1320.9zM2408.45 1320.9V1219.42h2V1320.9zM2409.57 1320.9V1219.42h2V1320.9zM2410.69 1320.9V1241.06h2V1320.9zM2411.81 1320.9V1248.27h2V1320.9zM2412.93 1320.9V1204.99h2V1320.9zM2414.06 1320.9V1212.21h2V1320.9zM2415.18 1320.9V1212.21h2V1320.9z" fill="#a0ecc4"/>
<rect x="154.5" y="1320.7" width="2262.8" height="2" fill="#6a6a6a"/>
<rect x="154.3" y="815.5" width="2" height="506.9" fill="#6b6b6b"/>
<path d="M155.5 1322.7V1332.4M478.61 1322.7V1332.4M801.73 1322.7V1332.4M1124.84 1322.7V1332.4M1447.96 1322.7V1332.4M1771.07 1322.7V1332.4M2094.19 1322.7V1332.4M144.5 1320.4H154.5M144.5 1248.27H154.5M144.5 1176.14H154.5M144.5 1104.01H154.5M144.5 1031.89H154.5M144.5 959.76H154.5M144.5 887.63H154.5M144.5 815.5H154.5" stroke="#999" stroke-width="1" fill="none"/>
<text opacity="0.99" x="133" y="1326.7" text-anchor="end" font-family="Liberation Sans, sans-serif" font-size="20.2" fill="#3c3c3c" stroke="#3c3c3c" stroke-width="0.25" textLength="10.6" lengthAdjust="spacingAndGlyphs">0</text>
<text opacity="0.99" x="133" y="1254.57" text-anchor="end" font-family="Liberation Sans, sans-serif" font-size="20.2" fill="#3c3c3c" stroke="#3c3c3c" stroke-width="0.25" textLength="24" lengthAdjust="spacingAndGlyphs">10</text>
<text opacity="0.99" x="133" y="1182.44" text-anchor="end" font-family="Liberation Sans, sans-serif" font-size="20.2" fill="#3c3c3c" stroke="#3c3c3c" stroke-width="0.25" textLength="24" lengthAdjust="spacingAndGlyphs">20</text>
<text opacity="0.99" x="133" y="1110.31" text-anchor="end" font-family="Liberation Sans, sans-serif" font-size="20.2" fill="#3c3c3c" stroke="#3c3c3c" stroke-width="0.25" textLength="24" lengthAdjust="spacingAndGlyphs">30</text>
<text opacity="0.99" x="133" y="1038.19" text-anchor="end" font-family="Liberation Sans, sans-serif" font-size="20.2" fill="#3c3c3c" stroke="#3c3c3c" stroke-width="0.25" textLength="24" lengthAdjust="spacingAndGlyphs">40</text>
<text opacity="0.99" x="133" y="966.06" text-anchor="end" font-family="Liberation Sans, sans-serif" font-size="20.2" fill="#3c3c3c" stroke="#3c3c3c" stroke-width="0.25" textLength="24" lengthAdjust="spacingAndGlyphs">50</text>
<text opacity="0.99" x="133" y="893.93" text-anchor="end" font-family="Liberation Sans, sans-serif" font-size="20.2" fill="#3c3c3c" stroke="#3c3c3c" stroke-width="0.25" textLength="24" lengthAdjust="spacingAndGlyphs">60</text>
<text opacity="0.99" x="133" y="821.8" text-anchor="end" font-family="Liberation Sans, sans-serif" font-size="20.2" fill="#3c3c3c" stroke="#3c3c3c" stroke-width="0.25" textLength="24" lengthAdjust="spacingAndGlyphs">70</text>
<text opacity="0.99" x="155.2" y="1356.7" text-anchor="middle" font-family="Liberation Sans, sans-serif" font-size="20.2" fill="#1c1c1c" stroke="#1c1c1c" stroke-width="0.3" textLength="80" lengthAdjust="spacingAndGlyphs">sam. 24</text>
<text opacity="0.99" x="478.31" y="1356.7" text-anchor="middle" font-family="Liberation Sans, sans-serif" font-size="20.2" fill="#1c1c1c" stroke="#1c1c1c" stroke-width="0.3" textLength="76" lengthAdjust="spacingAndGlyphs">dim. 25</text>
<text opacity="0.99" x="801.43" y="1356.7" text-anchor="middle" font-family="Liberation Sans, sans-serif" font-size="20.2" fill="#1c1c1c" stroke="#1c1c1c" stroke-width="0.3" textLength="70" lengthAdjust="spacingAndGlyphs">lun. 26</text>
<text opacity="0.99" x="1124.54" y="1356.7" text-anchor="middle" font-family="Liberation Sans, sans-serif" font-size="20.2" fill="#1c1c1c" stroke="#1c1c1c" stroke-width="0.3" textLength="77" lengthAdjust="spacingAndGlyphs">mar. 27</text>
<text opacity="0.99" x="1447.66" y="1356.7" text-anchor="middle" font-family="Liberation Sans, sans-serif" font-size="20.2" fill="#1c1c1c" stroke="#1c1c1c" stroke-width="0.3" textLength="77" lengthAdjust="spacingAndGlyphs">mer. 28</text>
<text opacity="0.99" x="1770.77" y="1356.7" text-anchor="middle" font-family="Liberation Sans, sans-serif" font-size="20.2" fill="#1c1c1c" stroke="#1c1c1c" stroke-width="0.3" textLength="72" lengthAdjust="spacingAndGlyphs">jeu. 29</text>
<text opacity="0.99" x="2093.89" y="1356.7" text-anchor="middle" font-family="Liberation Sans, sans-serif" font-size="20.2" fill="#1c1c1c" stroke="#1c1c1c" stroke-width="0.3" textLength="76" lengthAdjust="spacingAndGlyphs">ven. 30</text>
<text opacity="0.99" transform="translate(85.8,1067.3) rotate(-90)" text-anchor="middle" font-family="Liberation Sans, sans-serif" font-size="21.5" fill="#444" textLength="29.6" lengthAdjust="spacingAndGlyphs">kW</text>
<rect x="562.7" y="806.7" width="410.6" height="56.6" rx="9" fill="#fff" stroke="#808080" stroke-width="3.4"/>
<text opacity="0.99" x="610.5" y="845.3" font-family="Liberation Sans, sans-serif" font-size="28.3" fill="#000" textLength="335.5" lengthAdjust="spacingAndGlyphs" xml:space="preserve">Consommation: 1 942 kWh</text>
<rect x="1100.2" y="806.7" width="411.8" height="56.6" rx="9" fill="#fff" stroke="#808080" stroke-width="3.4"/>
<text opacity="0.99" x="1221" y="845.3" font-family="Liberation Sans, sans-serif" font-size="28.3" fill="#000" textLength="189.4" lengthAdjust="spacingAndGlyphs" xml:space="preserve">P Max :  68 kW</text>
<rect x="1609.7" y="806.7" width="411.9" height="56.6" rx="9" fill="#fff" stroke="#808080" stroke-width="3.4"/>
<text opacity="0.99" x="1745.5" y="845.3" font-family="Liberation Sans, sans-serif" font-size="28.3" fill="#000" textLength="160.5" lengthAdjust="spacingAndGlyphs" xml:space="preserve">P min : 1 kW</text>
<rect x="2322.5" y="1322.3" width="115.5" height="56.8" fill="#fff"/>
<g transform="translate(2334,1324)"><path d="M24.96 15.87A12.6 12.6 0 1 0 28.04 26.3H17.5" fill="none" stroke="#0a6fb8" stroke-width="5.2"/><path d="M35.3 24.6A7 7 0 1 1 47.7 28.3L37.2 37H51.9" fill="none" stroke="#0a6fb8" stroke-width="5" stroke-linejoin="miter"/><path d="M57.5 1L50 14H58L55 43L66 13.5H58.5z" fill="#ee5a24"/><path d="M69 15.5H90L86 21H66.5zM65.5 24.5H86.5L82.5 30H63zM62 33.5H83L79 39.5H59.5z" fill="#f39220"/><text opacity="0.99" x="59.5" y="10.6" font-family="Liberation Sans, sans-serif" font-size="6.6" font-weight="bold" fill="#ee5a24" textLength="30" lengthAdjust="spacingAndGlyphs">FRANCE</text><path d="M6 43.3H80" stroke="#6aa8dc" stroke-width="1.6" stroke-dasharray="4 0.7" stroke-opacity="0.8"/></g>
</svg></body></html>
